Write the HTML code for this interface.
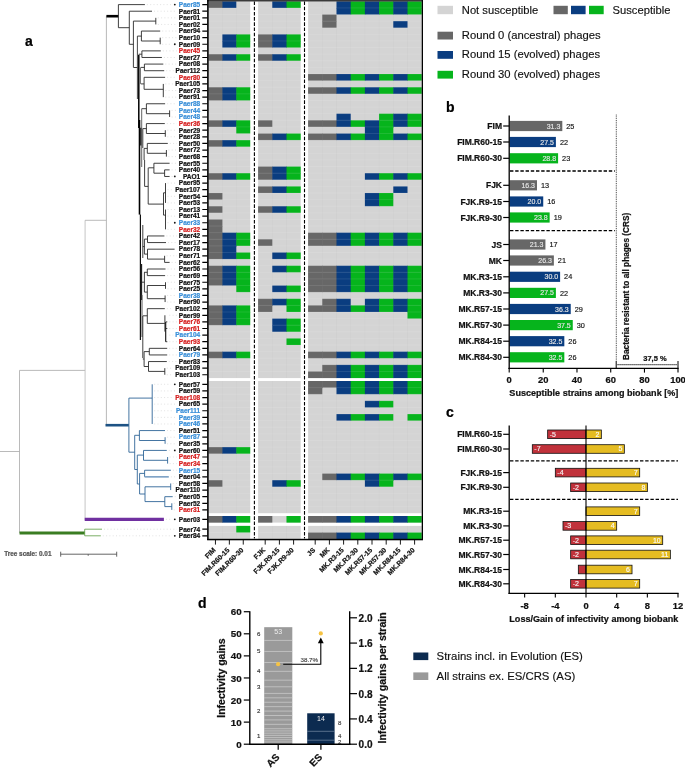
<!DOCTYPE html><html><head><meta charset="utf-8"><style>html,body{margin:0;padding:0;background:#fff;}svg{display:block;font-family:"Liberation Sans",sans-serif;will-change:transform;}</style></head><body>
<svg width="685" height="769" viewBox="0 0 685 769">
<g>
<rect x="208.50" y="1.30" width="41.70" height="376.77" fill="#d4d4d4"/>
<rect x="258.10" y="1.30" width="42.60" height="376.77" fill="#d4d4d4"/>
<rect x="308.10" y="1.30" width="113.60" height="376.77" fill="#d4d4d4"/>
<rect x="208.50" y="381.00" width="41.70" height="132.20" fill="#d4d4d4"/>
<rect x="258.10" y="381.00" width="42.60" height="132.20" fill="#d4d4d4"/>
<rect x="308.10" y="381.00" width="113.60" height="132.20" fill="#d4d4d4"/>
<rect x="208.50" y="516.00" width="41.70" height="6.61" fill="#d4d4d4"/>
<rect x="258.10" y="516.00" width="42.60" height="6.61" fill="#d4d4d4"/>
<rect x="308.10" y="516.00" width="113.60" height="6.61" fill="#d4d4d4"/>
<rect x="208.50" y="525.90" width="41.70" height="13.22" fill="#d4d4d4"/>
<rect x="258.10" y="525.90" width="42.60" height="13.22" fill="#d4d4d4"/>
<rect x="308.10" y="525.90" width="113.60" height="13.22" fill="#d4d4d4"/>
<rect x="208.50" y="1.30" width="14.40" height="6.61" fill="#676767"/>
<rect x="222.40" y="1.30" width="13.90" height="6.61" fill="#0a3d80"/>
<rect x="272.30" y="1.30" width="14.70" height="6.61" fill="#0a3d80"/>
<rect x="286.50" y="1.30" width="14.20" height="6.61" fill="#06b41c"/>
<rect x="336.50" y="1.30" width="14.70" height="7.11" fill="#0a3d80"/>
<rect x="350.70" y="1.30" width="14.70" height="7.11" fill="#06b41c"/>
<rect x="364.90" y="1.30" width="14.70" height="7.11" fill="#0a3d80"/>
<rect x="379.10" y="1.30" width="14.70" height="7.11" fill="#06b41c"/>
<rect x="393.30" y="1.30" width="14.70" height="7.11" fill="#0a3d80"/>
<rect x="407.50" y="1.30" width="14.20" height="7.11" fill="#06b41c"/>
<rect x="336.50" y="7.91" width="14.70" height="6.61" fill="#0a3d80"/>
<rect x="350.70" y="7.91" width="14.70" height="6.61" fill="#06b41c"/>
<rect x="364.90" y="7.91" width="14.70" height="6.61" fill="#0a3d80"/>
<rect x="379.10" y="7.91" width="14.70" height="6.61" fill="#06b41c"/>
<rect x="393.30" y="7.91" width="14.70" height="6.61" fill="#0a3d80"/>
<rect x="407.50" y="7.91" width="14.20" height="6.61" fill="#06b41c"/>
<rect x="322.30" y="14.52" width="14.20" height="7.11" fill="#676767"/>
<rect x="322.30" y="21.13" width="14.20" height="6.61" fill="#676767"/>
<rect x="393.30" y="21.13" width="14.20" height="6.61" fill="#0a3d80"/>
<rect x="222.40" y="34.35" width="14.40" height="7.11" fill="#0a3d80"/>
<rect x="236.30" y="34.35" width="13.90" height="7.11" fill="#06b41c"/>
<rect x="258.10" y="34.35" width="14.70" height="7.11" fill="#676767"/>
<rect x="272.30" y="34.35" width="14.70" height="7.11" fill="#0a3d80"/>
<rect x="286.50" y="34.35" width="14.20" height="7.11" fill="#06b41c"/>
<rect x="222.40" y="40.96" width="14.40" height="6.61" fill="#0a3d80"/>
<rect x="236.30" y="40.96" width="13.90" height="6.61" fill="#06b41c"/>
<rect x="258.10" y="40.96" width="14.70" height="6.61" fill="#676767"/>
<rect x="272.30" y="40.96" width="14.70" height="6.61" fill="#0a3d80"/>
<rect x="286.50" y="40.96" width="14.20" height="6.61" fill="#06b41c"/>
<rect x="208.50" y="54.18" width="14.40" height="6.61" fill="#676767"/>
<rect x="222.40" y="54.18" width="14.40" height="6.61" fill="#0a3d80"/>
<rect x="236.30" y="54.18" width="13.90" height="6.61" fill="#06b41c"/>
<rect x="258.10" y="54.18" width="14.70" height="6.61" fill="#676767"/>
<rect x="272.30" y="54.18" width="14.70" height="6.61" fill="#0a3d80"/>
<rect x="286.50" y="54.18" width="14.20" height="6.61" fill="#06b41c"/>
<rect x="308.10" y="74.01" width="14.70" height="6.61" fill="#676767"/>
<rect x="322.30" y="74.01" width="14.70" height="6.61" fill="#676767"/>
<rect x="336.50" y="74.01" width="14.70" height="6.61" fill="#0a3d80"/>
<rect x="350.70" y="74.01" width="14.70" height="6.61" fill="#06b41c"/>
<rect x="364.90" y="74.01" width="14.70" height="6.61" fill="#0a3d80"/>
<rect x="379.10" y="74.01" width="14.70" height="6.61" fill="#06b41c"/>
<rect x="393.30" y="74.01" width="14.70" height="6.61" fill="#0a3d80"/>
<rect x="407.50" y="74.01" width="14.20" height="6.61" fill="#06b41c"/>
<rect x="208.50" y="87.23" width="14.40" height="7.11" fill="#676767"/>
<rect x="222.40" y="87.23" width="14.40" height="7.11" fill="#0a3d80"/>
<rect x="236.30" y="87.23" width="13.90" height="7.11" fill="#06b41c"/>
<rect x="308.10" y="87.23" width="14.70" height="6.61" fill="#676767"/>
<rect x="322.30" y="87.23" width="14.70" height="6.61" fill="#676767"/>
<rect x="336.50" y="87.23" width="14.70" height="6.61" fill="#0a3d80"/>
<rect x="350.70" y="87.23" width="14.70" height="6.61" fill="#06b41c"/>
<rect x="364.90" y="87.23" width="14.70" height="6.61" fill="#0a3d80"/>
<rect x="379.10" y="87.23" width="14.70" height="6.61" fill="#06b41c"/>
<rect x="393.30" y="87.23" width="14.70" height="6.61" fill="#0a3d80"/>
<rect x="407.50" y="87.23" width="14.20" height="6.61" fill="#06b41c"/>
<rect x="208.50" y="93.84" width="14.40" height="6.61" fill="#676767"/>
<rect x="222.40" y="93.84" width="14.40" height="6.61" fill="#0a3d80"/>
<rect x="236.30" y="93.84" width="13.90" height="6.61" fill="#06b41c"/>
<rect x="336.50" y="113.67" width="14.20" height="7.11" fill="#0a3d80"/>
<rect x="379.10" y="113.67" width="14.70" height="7.11" fill="#06b41c"/>
<rect x="393.30" y="113.67" width="14.70" height="7.11" fill="#0a3d80"/>
<rect x="407.50" y="113.67" width="14.20" height="7.11" fill="#06b41c"/>
<rect x="208.50" y="120.28" width="14.40" height="6.61" fill="#676767"/>
<rect x="222.40" y="120.28" width="14.40" height="6.61" fill="#0a3d80"/>
<rect x="236.30" y="120.28" width="13.90" height="7.11" fill="#06b41c"/>
<rect x="258.10" y="120.28" width="14.20" height="6.61" fill="#676767"/>
<rect x="308.10" y="120.28" width="14.70" height="6.61" fill="#676767"/>
<rect x="322.30" y="120.28" width="14.70" height="6.61" fill="#676767"/>
<rect x="336.50" y="120.28" width="14.70" height="6.61" fill="#0a3d80"/>
<rect x="350.70" y="120.28" width="14.70" height="6.61" fill="#06b41c"/>
<rect x="364.90" y="120.28" width="14.70" height="7.11" fill="#0a3d80"/>
<rect x="379.10" y="120.28" width="14.70" height="7.11" fill="#06b41c"/>
<rect x="393.30" y="120.28" width="14.70" height="6.61" fill="#0a3d80"/>
<rect x="407.50" y="120.28" width="14.20" height="6.61" fill="#06b41c"/>
<rect x="236.30" y="126.89" width="13.90" height="6.61" fill="#06b41c"/>
<rect x="364.90" y="126.89" width="14.70" height="7.11" fill="#0a3d80"/>
<rect x="379.10" y="126.89" width="14.20" height="7.11" fill="#06b41c"/>
<rect x="258.10" y="133.50" width="14.70" height="6.61" fill="#676767"/>
<rect x="272.30" y="133.50" width="14.70" height="6.61" fill="#0a3d80"/>
<rect x="286.50" y="133.50" width="14.20" height="6.61" fill="#06b41c"/>
<rect x="308.10" y="133.50" width="14.70" height="6.61" fill="#676767"/>
<rect x="322.30" y="133.50" width="14.70" height="6.61" fill="#676767"/>
<rect x="336.50" y="133.50" width="14.70" height="6.61" fill="#0a3d80"/>
<rect x="350.70" y="133.50" width="14.70" height="6.61" fill="#06b41c"/>
<rect x="364.90" y="133.50" width="14.70" height="6.61" fill="#0a3d80"/>
<rect x="379.10" y="133.50" width="14.70" height="6.61" fill="#06b41c"/>
<rect x="393.30" y="133.50" width="14.70" height="6.61" fill="#0a3d80"/>
<rect x="407.50" y="133.50" width="14.20" height="6.61" fill="#06b41c"/>
<rect x="208.50" y="140.11" width="14.40" height="6.61" fill="#676767"/>
<rect x="222.40" y="140.11" width="14.40" height="6.61" fill="#0a3d80"/>
<rect x="236.30" y="140.11" width="13.90" height="6.61" fill="#06b41c"/>
<rect x="258.10" y="166.55" width="14.70" height="7.11" fill="#676767"/>
<rect x="272.30" y="166.55" width="14.70" height="7.11" fill="#0a3d80"/>
<rect x="286.50" y="166.55" width="14.20" height="7.11" fill="#06b41c"/>
<rect x="208.50" y="173.16" width="14.40" height="6.61" fill="#676767"/>
<rect x="222.40" y="173.16" width="14.40" height="6.61" fill="#0a3d80"/>
<rect x="236.30" y="173.16" width="13.90" height="6.61" fill="#06b41c"/>
<rect x="258.10" y="173.16" width="14.70" height="6.61" fill="#676767"/>
<rect x="272.30" y="173.16" width="14.70" height="6.61" fill="#0a3d80"/>
<rect x="286.50" y="173.16" width="14.20" height="6.61" fill="#06b41c"/>
<rect x="364.90" y="173.16" width="14.70" height="6.61" fill="#0a3d80"/>
<rect x="379.10" y="173.16" width="14.70" height="6.61" fill="#06b41c"/>
<rect x="393.30" y="173.16" width="14.70" height="6.61" fill="#0a3d80"/>
<rect x="407.50" y="173.16" width="14.20" height="6.61" fill="#06b41c"/>
<rect x="258.10" y="186.38" width="14.70" height="6.61" fill="#676767"/>
<rect x="272.30" y="186.38" width="14.70" height="6.61" fill="#0a3d80"/>
<rect x="286.50" y="186.38" width="14.20" height="6.61" fill="#06b41c"/>
<rect x="393.30" y="186.38" width="14.20" height="6.61" fill="#0a3d80"/>
<rect x="208.50" y="192.99" width="13.90" height="6.61" fill="#676767"/>
<rect x="364.90" y="192.99" width="14.70" height="7.11" fill="#0a3d80"/>
<rect x="379.10" y="192.99" width="14.20" height="7.11" fill="#06b41c"/>
<rect x="364.90" y="199.60" width="14.70" height="6.61" fill="#0a3d80"/>
<rect x="379.10" y="199.60" width="14.20" height="6.61" fill="#06b41c"/>
<rect x="208.50" y="206.21" width="13.90" height="6.61" fill="#676767"/>
<rect x="258.10" y="206.21" width="14.70" height="6.61" fill="#676767"/>
<rect x="272.30" y="206.21" width="14.70" height="6.61" fill="#0a3d80"/>
<rect x="286.50" y="206.21" width="14.20" height="6.61" fill="#06b41c"/>
<rect x="208.50" y="219.43" width="13.90" height="7.11" fill="#676767"/>
<rect x="208.50" y="226.04" width="13.90" height="7.11" fill="#676767"/>
<rect x="208.50" y="232.65" width="14.40" height="7.11" fill="#676767"/>
<rect x="222.40" y="232.65" width="14.40" height="7.11" fill="#0a3d80"/>
<rect x="236.30" y="232.65" width="13.90" height="7.11" fill="#06b41c"/>
<rect x="308.10" y="232.65" width="14.70" height="7.11" fill="#676767"/>
<rect x="322.30" y="232.65" width="14.70" height="7.11" fill="#676767"/>
<rect x="336.50" y="232.65" width="14.70" height="7.11" fill="#0a3d80"/>
<rect x="350.70" y="232.65" width="14.70" height="7.11" fill="#06b41c"/>
<rect x="364.90" y="232.65" width="14.70" height="7.11" fill="#0a3d80"/>
<rect x="379.10" y="232.65" width="14.70" height="7.11" fill="#06b41c"/>
<rect x="393.30" y="232.65" width="14.70" height="7.11" fill="#0a3d80"/>
<rect x="407.50" y="232.65" width="14.20" height="7.11" fill="#06b41c"/>
<rect x="208.50" y="239.26" width="14.40" height="7.11" fill="#676767"/>
<rect x="222.40" y="239.26" width="14.40" height="7.11" fill="#0a3d80"/>
<rect x="236.30" y="239.26" width="13.90" height="6.61" fill="#06b41c"/>
<rect x="258.10" y="239.26" width="14.20" height="6.61" fill="#676767"/>
<rect x="308.10" y="239.26" width="14.70" height="6.61" fill="#676767"/>
<rect x="322.30" y="239.26" width="14.70" height="6.61" fill="#676767"/>
<rect x="336.50" y="239.26" width="14.70" height="6.61" fill="#0a3d80"/>
<rect x="350.70" y="239.26" width="14.70" height="6.61" fill="#06b41c"/>
<rect x="364.90" y="239.26" width="14.70" height="6.61" fill="#0a3d80"/>
<rect x="379.10" y="239.26" width="14.70" height="6.61" fill="#06b41c"/>
<rect x="393.30" y="239.26" width="14.70" height="6.61" fill="#0a3d80"/>
<rect x="407.50" y="239.26" width="14.20" height="6.61" fill="#06b41c"/>
<rect x="208.50" y="245.87" width="14.40" height="7.11" fill="#676767"/>
<rect x="222.40" y="245.87" width="13.90" height="7.11" fill="#0a3d80"/>
<rect x="208.50" y="252.48" width="14.40" height="6.61" fill="#676767"/>
<rect x="222.40" y="252.48" width="14.40" height="6.61" fill="#0a3d80"/>
<rect x="236.30" y="252.48" width="13.90" height="6.61" fill="#06b41c"/>
<rect x="272.30" y="252.48" width="14.70" height="6.61" fill="#0a3d80"/>
<rect x="286.50" y="252.48" width="14.20" height="6.61" fill="#06b41c"/>
<rect x="208.50" y="265.70" width="14.40" height="7.11" fill="#676767"/>
<rect x="222.40" y="265.70" width="14.40" height="7.11" fill="#0a3d80"/>
<rect x="236.30" y="265.70" width="13.90" height="7.11" fill="#06b41c"/>
<rect x="272.30" y="265.70" width="14.70" height="6.61" fill="#0a3d80"/>
<rect x="286.50" y="265.70" width="14.20" height="6.61" fill="#06b41c"/>
<rect x="308.10" y="265.70" width="14.70" height="7.11" fill="#676767"/>
<rect x="322.30" y="265.70" width="14.70" height="7.11" fill="#676767"/>
<rect x="336.50" y="265.70" width="14.70" height="7.11" fill="#0a3d80"/>
<rect x="350.70" y="265.70" width="14.70" height="7.11" fill="#06b41c"/>
<rect x="364.90" y="265.70" width="14.70" height="7.11" fill="#0a3d80"/>
<rect x="379.10" y="265.70" width="14.70" height="7.11" fill="#06b41c"/>
<rect x="393.30" y="265.70" width="14.70" height="7.11" fill="#0a3d80"/>
<rect x="407.50" y="265.70" width="14.20" height="7.11" fill="#06b41c"/>
<rect x="208.50" y="272.31" width="14.40" height="7.11" fill="#676767"/>
<rect x="222.40" y="272.31" width="14.40" height="7.11" fill="#0a3d80"/>
<rect x="236.30" y="272.31" width="13.90" height="7.11" fill="#06b41c"/>
<rect x="308.10" y="272.31" width="14.70" height="7.11" fill="#676767"/>
<rect x="322.30" y="272.31" width="14.70" height="7.11" fill="#676767"/>
<rect x="336.50" y="272.31" width="14.70" height="7.11" fill="#0a3d80"/>
<rect x="350.70" y="272.31" width="14.70" height="7.11" fill="#06b41c"/>
<rect x="364.90" y="272.31" width="14.70" height="7.11" fill="#0a3d80"/>
<rect x="379.10" y="272.31" width="14.70" height="7.11" fill="#06b41c"/>
<rect x="393.30" y="272.31" width="14.70" height="7.11" fill="#0a3d80"/>
<rect x="407.50" y="272.31" width="14.20" height="7.11" fill="#06b41c"/>
<rect x="208.50" y="278.92" width="14.40" height="6.61" fill="#676767"/>
<rect x="222.40" y="278.92" width="14.40" height="6.61" fill="#0a3d80"/>
<rect x="236.30" y="278.92" width="13.90" height="7.11" fill="#06b41c"/>
<rect x="308.10" y="278.92" width="14.70" height="7.11" fill="#676767"/>
<rect x="322.30" y="278.92" width="14.70" height="7.11" fill="#676767"/>
<rect x="336.50" y="278.92" width="14.70" height="7.11" fill="#0a3d80"/>
<rect x="350.70" y="278.92" width="14.70" height="7.11" fill="#06b41c"/>
<rect x="364.90" y="278.92" width="14.70" height="7.11" fill="#0a3d80"/>
<rect x="379.10" y="278.92" width="14.70" height="7.11" fill="#06b41c"/>
<rect x="393.30" y="278.92" width="14.70" height="7.11" fill="#0a3d80"/>
<rect x="407.50" y="278.92" width="14.20" height="7.11" fill="#06b41c"/>
<rect x="236.30" y="285.53" width="13.90" height="6.61" fill="#06b41c"/>
<rect x="272.30" y="285.53" width="14.70" height="6.61" fill="#0a3d80"/>
<rect x="286.50" y="285.53" width="14.20" height="6.61" fill="#06b41c"/>
<rect x="308.10" y="285.53" width="14.70" height="6.61" fill="#676767"/>
<rect x="322.30" y="285.53" width="14.70" height="6.61" fill="#676767"/>
<rect x="336.50" y="285.53" width="14.70" height="6.61" fill="#0a3d80"/>
<rect x="350.70" y="285.53" width="14.70" height="6.61" fill="#06b41c"/>
<rect x="364.90" y="285.53" width="14.70" height="6.61" fill="#0a3d80"/>
<rect x="379.10" y="285.53" width="14.70" height="6.61" fill="#06b41c"/>
<rect x="393.30" y="285.53" width="14.70" height="6.61" fill="#0a3d80"/>
<rect x="407.50" y="285.53" width="14.20" height="6.61" fill="#06b41c"/>
<rect x="258.10" y="298.75" width="14.70" height="7.11" fill="#676767"/>
<rect x="272.30" y="298.75" width="14.70" height="6.61" fill="#0a3d80"/>
<rect x="286.50" y="298.75" width="14.20" height="7.11" fill="#06b41c"/>
<rect x="322.30" y="298.75" width="14.70" height="7.11" fill="#676767"/>
<rect x="336.50" y="298.75" width="14.20" height="7.11" fill="#0a3d80"/>
<rect x="364.90" y="298.75" width="14.70" height="7.11" fill="#0a3d80"/>
<rect x="379.10" y="298.75" width="14.70" height="7.11" fill="#06b41c"/>
<rect x="393.30" y="298.75" width="14.70" height="7.11" fill="#0a3d80"/>
<rect x="407.50" y="298.75" width="14.20" height="7.11" fill="#06b41c"/>
<rect x="208.50" y="305.36" width="14.40" height="7.11" fill="#676767"/>
<rect x="222.40" y="305.36" width="14.40" height="7.11" fill="#0a3d80"/>
<rect x="236.30" y="305.36" width="13.90" height="7.11" fill="#06b41c"/>
<rect x="258.10" y="305.36" width="14.20" height="6.61" fill="#676767"/>
<rect x="286.50" y="305.36" width="14.20" height="6.61" fill="#06b41c"/>
<rect x="308.10" y="305.36" width="14.70" height="6.61" fill="#676767"/>
<rect x="322.30" y="305.36" width="14.70" height="6.61" fill="#676767"/>
<rect x="336.50" y="305.36" width="14.70" height="6.61" fill="#0a3d80"/>
<rect x="350.70" y="305.36" width="14.70" height="6.61" fill="#06b41c"/>
<rect x="364.90" y="305.36" width="14.70" height="6.61" fill="#0a3d80"/>
<rect x="379.10" y="305.36" width="14.70" height="6.61" fill="#06b41c"/>
<rect x="393.30" y="305.36" width="14.70" height="6.61" fill="#0a3d80"/>
<rect x="407.50" y="305.36" width="14.20" height="7.11" fill="#06b41c"/>
<rect x="208.50" y="311.97" width="14.40" height="7.11" fill="#676767"/>
<rect x="222.40" y="311.97" width="14.40" height="7.11" fill="#0a3d80"/>
<rect x="236.30" y="311.97" width="13.90" height="7.11" fill="#06b41c"/>
<rect x="407.50" y="311.97" width="14.20" height="6.61" fill="#06b41c"/>
<rect x="208.50" y="318.58" width="14.40" height="6.61" fill="#676767"/>
<rect x="222.40" y="318.58" width="14.40" height="6.61" fill="#0a3d80"/>
<rect x="236.30" y="318.58" width="13.90" height="6.61" fill="#06b41c"/>
<rect x="272.30" y="318.58" width="14.70" height="7.11" fill="#0a3d80"/>
<rect x="286.50" y="318.58" width="14.20" height="7.11" fill="#06b41c"/>
<rect x="272.30" y="325.19" width="14.70" height="6.61" fill="#0a3d80"/>
<rect x="286.50" y="325.19" width="14.20" height="6.61" fill="#06b41c"/>
<rect x="286.50" y="338.41" width="14.20" height="6.61" fill="#06b41c"/>
<rect x="208.50" y="351.63" width="14.40" height="6.61" fill="#676767"/>
<rect x="222.40" y="351.63" width="14.40" height="6.61" fill="#0a3d80"/>
<rect x="236.30" y="351.63" width="13.90" height="6.61" fill="#06b41c"/>
<rect x="308.10" y="351.63" width="14.70" height="6.61" fill="#676767"/>
<rect x="322.30" y="351.63" width="14.70" height="6.61" fill="#676767"/>
<rect x="336.50" y="351.63" width="14.70" height="6.61" fill="#0a3d80"/>
<rect x="350.70" y="351.63" width="14.70" height="6.61" fill="#06b41c"/>
<rect x="364.90" y="351.63" width="14.70" height="6.61" fill="#0a3d80"/>
<rect x="379.10" y="351.63" width="14.70" height="6.61" fill="#06b41c"/>
<rect x="393.30" y="351.63" width="14.70" height="6.61" fill="#0a3d80"/>
<rect x="407.50" y="351.63" width="14.20" height="6.61" fill="#06b41c"/>
<rect x="322.30" y="364.85" width="14.70" height="7.11" fill="#676767"/>
<rect x="336.50" y="364.85" width="14.70" height="7.11" fill="#0a3d80"/>
<rect x="350.70" y="364.85" width="14.70" height="7.11" fill="#06b41c"/>
<rect x="364.90" y="364.85" width="14.70" height="7.11" fill="#0a3d80"/>
<rect x="379.10" y="364.85" width="14.70" height="7.11" fill="#06b41c"/>
<rect x="393.30" y="364.85" width="14.70" height="7.11" fill="#0a3d80"/>
<rect x="407.50" y="364.85" width="14.20" height="7.11" fill="#06b41c"/>
<rect x="308.10" y="371.46" width="14.70" height="6.61" fill="#676767"/>
<rect x="322.30" y="371.46" width="14.70" height="6.61" fill="#676767"/>
<rect x="336.50" y="371.46" width="14.70" height="6.61" fill="#0a3d80"/>
<rect x="350.70" y="371.46" width="14.70" height="6.61" fill="#06b41c"/>
<rect x="364.90" y="371.46" width="14.70" height="6.61" fill="#0a3d80"/>
<rect x="379.10" y="371.46" width="14.70" height="6.61" fill="#06b41c"/>
<rect x="393.30" y="371.46" width="14.70" height="6.61" fill="#0a3d80"/>
<rect x="407.50" y="371.46" width="14.20" height="6.61" fill="#06b41c"/>
<rect x="308.10" y="381.00" width="14.70" height="7.11" fill="#676767"/>
<rect x="322.30" y="381.00" width="14.70" height="6.61" fill="#676767"/>
<rect x="336.50" y="381.00" width="14.70" height="7.11" fill="#0a3d80"/>
<rect x="350.70" y="381.00" width="14.70" height="7.11" fill="#06b41c"/>
<rect x="364.90" y="381.00" width="14.70" height="7.11" fill="#0a3d80"/>
<rect x="379.10" y="381.00" width="14.70" height="7.11" fill="#06b41c"/>
<rect x="393.30" y="381.00" width="14.70" height="7.11" fill="#0a3d80"/>
<rect x="407.50" y="381.00" width="14.20" height="7.11" fill="#06b41c"/>
<rect x="308.10" y="387.61" width="14.20" height="6.61" fill="#676767"/>
<rect x="336.50" y="387.61" width="14.70" height="6.61" fill="#0a3d80"/>
<rect x="350.70" y="387.61" width="14.70" height="6.61" fill="#06b41c"/>
<rect x="364.90" y="387.61" width="14.70" height="6.61" fill="#0a3d80"/>
<rect x="379.10" y="387.61" width="14.70" height="6.61" fill="#06b41c"/>
<rect x="393.30" y="387.61" width="14.70" height="6.61" fill="#0a3d80"/>
<rect x="407.50" y="387.61" width="14.20" height="6.61" fill="#06b41c"/>
<rect x="364.90" y="400.83" width="14.70" height="6.61" fill="#0a3d80"/>
<rect x="379.10" y="400.83" width="14.20" height="6.61" fill="#06b41c"/>
<rect x="336.50" y="414.05" width="14.70" height="6.61" fill="#0a3d80"/>
<rect x="350.70" y="414.05" width="14.70" height="6.61" fill="#06b41c"/>
<rect x="364.90" y="414.05" width="14.70" height="6.61" fill="#0a3d80"/>
<rect x="379.10" y="414.05" width="14.20" height="6.61" fill="#06b41c"/>
<rect x="407.50" y="414.05" width="14.20" height="6.61" fill="#06b41c"/>
<rect x="208.50" y="447.10" width="14.40" height="6.61" fill="#676767"/>
<rect x="222.40" y="447.10" width="14.40" height="6.61" fill="#0a3d80"/>
<rect x="236.30" y="447.10" width="13.90" height="6.61" fill="#06b41c"/>
<rect x="322.30" y="473.54" width="14.70" height="6.61" fill="#676767"/>
<rect x="336.50" y="473.54" width="14.70" height="6.61" fill="#0a3d80"/>
<rect x="350.70" y="473.54" width="14.70" height="6.61" fill="#06b41c"/>
<rect x="364.90" y="473.54" width="14.70" height="7.11" fill="#0a3d80"/>
<rect x="379.10" y="473.54" width="14.70" height="7.11" fill="#06b41c"/>
<rect x="393.30" y="473.54" width="14.70" height="6.61" fill="#0a3d80"/>
<rect x="407.50" y="473.54" width="14.20" height="6.61" fill="#06b41c"/>
<rect x="208.50" y="480.15" width="13.90" height="6.61" fill="#676767"/>
<rect x="272.30" y="480.15" width="14.70" height="6.61" fill="#0a3d80"/>
<rect x="286.50" y="480.15" width="14.20" height="6.61" fill="#06b41c"/>
<rect x="364.90" y="480.15" width="14.70" height="6.61" fill="#0a3d80"/>
<rect x="379.10" y="480.15" width="14.20" height="6.61" fill="#06b41c"/>
<rect x="208.50" y="516.00" width="14.40" height="6.61" fill="#676767"/>
<rect x="222.40" y="516.00" width="14.40" height="6.61" fill="#0a3d80"/>
<rect x="236.30" y="516.00" width="13.90" height="6.61" fill="#06b41c"/>
<rect x="258.10" y="516.00" width="14.20" height="6.61" fill="#676767"/>
<rect x="286.50" y="516.00" width="14.20" height="6.61" fill="#06b41c"/>
<rect x="308.10" y="516.00" width="14.70" height="6.61" fill="#676767"/>
<rect x="322.30" y="516.00" width="14.70" height="6.61" fill="#676767"/>
<rect x="336.50" y="516.00" width="14.70" height="6.61" fill="#0a3d80"/>
<rect x="350.70" y="516.00" width="14.70" height="6.61" fill="#06b41c"/>
<rect x="364.90" y="516.00" width="14.70" height="6.61" fill="#0a3d80"/>
<rect x="379.10" y="516.00" width="14.70" height="6.61" fill="#06b41c"/>
<rect x="393.30" y="516.00" width="14.70" height="6.61" fill="#0a3d80"/>
<rect x="407.50" y="516.00" width="14.20" height="6.61" fill="#06b41c"/>
<rect x="236.30" y="525.90" width="13.90" height="6.61" fill="#06b41c"/>
<rect x="308.10" y="532.51" width="14.70" height="6.61" fill="#676767"/>
<rect x="322.30" y="532.51" width="14.70" height="6.61" fill="#676767"/>
<rect x="336.50" y="532.51" width="14.70" height="6.61" fill="#0a3d80"/>
<rect x="350.70" y="532.51" width="14.70" height="6.61" fill="#06b41c"/>
<rect x="364.90" y="532.51" width="14.70" height="6.61" fill="#0a3d80"/>
<rect x="379.10" y="532.51" width="14.70" height="6.61" fill="#06b41c"/>
<rect x="393.30" y="532.51" width="14.70" height="6.61" fill="#0a3d80"/>
<rect x="407.50" y="532.51" width="14.20" height="6.61" fill="#06b41c"/>
</g>
<path d="M208.50 7.91H250.20 M258.10 7.91H300.70 M308.10 7.91H421.70 M208.50 14.52H250.20 M258.10 14.52H300.70 M308.10 14.52H421.70 M208.50 21.13H250.20 M258.10 21.13H300.70 M308.10 21.13H421.70 M208.50 27.74H250.20 M258.10 27.74H300.70 M308.10 27.74H421.70 M208.50 34.35H250.20 M258.10 34.35H300.70 M308.10 34.35H421.70 M208.50 40.96H250.20 M258.10 40.96H300.70 M308.10 40.96H421.70 M208.50 47.57H250.20 M258.10 47.57H300.70 M308.10 47.57H421.70 M208.50 54.18H250.20 M258.10 54.18H300.70 M308.10 54.18H421.70 M208.50 60.79H250.20 M258.10 60.79H300.70 M308.10 60.79H421.70 M208.50 67.40H250.20 M258.10 67.40H300.70 M308.10 67.40H421.70 M208.50 74.01H250.20 M258.10 74.01H300.70 M308.10 74.01H421.70 M208.50 80.62H250.20 M258.10 80.62H300.70 M308.10 80.62H421.70 M208.50 87.23H250.20 M258.10 87.23H300.70 M308.10 87.23H421.70 M208.50 93.84H250.20 M258.10 93.84H300.70 M308.10 93.84H421.70 M208.50 100.45H250.20 M258.10 100.45H300.70 M308.10 100.45H421.70 M208.50 107.06H250.20 M258.10 107.06H300.70 M308.10 107.06H421.70 M208.50 113.67H250.20 M258.10 113.67H300.70 M308.10 113.67H421.70 M208.50 120.28H250.20 M258.10 120.28H300.70 M308.10 120.28H421.70 M208.50 126.89H250.20 M258.10 126.89H300.70 M308.10 126.89H421.70 M208.50 133.50H250.20 M258.10 133.50H300.70 M308.10 133.50H421.70 M208.50 140.11H250.20 M258.10 140.11H300.70 M308.10 140.11H421.70 M208.50 146.72H250.20 M258.10 146.72H300.70 M308.10 146.72H421.70 M208.50 153.33H250.20 M258.10 153.33H300.70 M308.10 153.33H421.70 M208.50 159.94H250.20 M258.10 159.94H300.70 M308.10 159.94H421.70 M208.50 166.55H250.20 M258.10 166.55H300.70 M308.10 166.55H421.70 M208.50 173.16H250.20 M258.10 173.16H300.70 M308.10 173.16H421.70 M208.50 179.77H250.20 M258.10 179.77H300.70 M308.10 179.77H421.70 M208.50 186.38H250.20 M258.10 186.38H300.70 M308.10 186.38H421.70 M208.50 192.99H250.20 M258.10 192.99H300.70 M308.10 192.99H421.70 M208.50 199.60H250.20 M258.10 199.60H300.70 M308.10 199.60H421.70 M208.50 206.21H250.20 M258.10 206.21H300.70 M308.10 206.21H421.70 M208.50 212.82H250.20 M258.10 212.82H300.70 M308.10 212.82H421.70 M208.50 219.43H250.20 M258.10 219.43H300.70 M308.10 219.43H421.70 M208.50 226.04H250.20 M258.10 226.04H300.70 M308.10 226.04H421.70 M208.50 232.65H250.20 M258.10 232.65H300.70 M308.10 232.65H421.70 M208.50 239.26H250.20 M258.10 239.26H300.70 M308.10 239.26H421.70 M208.50 245.87H250.20 M258.10 245.87H300.70 M308.10 245.87H421.70 M208.50 252.48H250.20 M258.10 252.48H300.70 M308.10 252.48H421.70 M208.50 259.09H250.20 M258.10 259.09H300.70 M308.10 259.09H421.70 M208.50 265.70H250.20 M258.10 265.70H300.70 M308.10 265.70H421.70 M208.50 272.31H250.20 M258.10 272.31H300.70 M308.10 272.31H421.70 M208.50 278.92H250.20 M258.10 278.92H300.70 M308.10 278.92H421.70 M208.50 285.53H250.20 M258.10 285.53H300.70 M308.10 285.53H421.70 M208.50 292.14H250.20 M258.10 292.14H300.70 M308.10 292.14H421.70 M208.50 298.75H250.20 M258.10 298.75H300.70 M308.10 298.75H421.70 M208.50 305.36H250.20 M258.10 305.36H300.70 M308.10 305.36H421.70 M208.50 311.97H250.20 M258.10 311.97H300.70 M308.10 311.97H421.70 M208.50 318.58H250.20 M258.10 318.58H300.70 M308.10 318.58H421.70 M208.50 325.19H250.20 M258.10 325.19H300.70 M308.10 325.19H421.70 M208.50 331.80H250.20 M258.10 331.80H300.70 M308.10 331.80H421.70 M208.50 338.41H250.20 M258.10 338.41H300.70 M308.10 338.41H421.70 M208.50 345.02H250.20 M258.10 345.02H300.70 M308.10 345.02H421.70 M208.50 351.63H250.20 M258.10 351.63H300.70 M308.10 351.63H421.70 M208.50 358.24H250.20 M258.10 358.24H300.70 M308.10 358.24H421.70 M208.50 364.85H250.20 M258.10 364.85H300.70 M308.10 364.85H421.70 M208.50 371.46H250.20 M258.10 371.46H300.70 M308.10 371.46H421.70 M208.50 387.61H250.20 M258.10 387.61H300.70 M308.10 387.61H421.70 M208.50 394.22H250.20 M258.10 394.22H300.70 M308.10 394.22H421.70 M208.50 400.83H250.20 M258.10 400.83H300.70 M308.10 400.83H421.70 M208.50 407.44H250.20 M258.10 407.44H300.70 M308.10 407.44H421.70 M208.50 414.05H250.20 M258.10 414.05H300.70 M308.10 414.05H421.70 M208.50 420.66H250.20 M258.10 420.66H300.70 M308.10 420.66H421.70 M208.50 427.27H250.20 M258.10 427.27H300.70 M308.10 427.27H421.70 M208.50 433.88H250.20 M258.10 433.88H300.70 M308.10 433.88H421.70 M208.50 440.49H250.20 M258.10 440.49H300.70 M308.10 440.49H421.70 M208.50 447.10H250.20 M258.10 447.10H300.70 M308.10 447.10H421.70 M208.50 453.71H250.20 M258.10 453.71H300.70 M308.10 453.71H421.70 M208.50 460.32H250.20 M258.10 460.32H300.70 M308.10 460.32H421.70 M208.50 466.93H250.20 M258.10 466.93H300.70 M308.10 466.93H421.70 M208.50 473.54H250.20 M258.10 473.54H300.70 M308.10 473.54H421.70 M208.50 480.15H250.20 M258.10 480.15H300.70 M308.10 480.15H421.70 M208.50 486.76H250.20 M258.10 486.76H300.70 M308.10 486.76H421.70 M208.50 493.37H250.20 M258.10 493.37H300.70 M308.10 493.37H421.70 M208.50 499.98H250.20 M258.10 499.98H300.70 M308.10 499.98H421.70 M208.50 506.59H250.20 M258.10 506.59H300.70 M308.10 506.59H421.70 M208.50 532.51H250.20 M258.10 532.51H300.70 M308.10 532.51H421.70" stroke="#fff" stroke-opacity="0.13" stroke-width="0.8" fill="none"/>
<path d="M222.40 1.30V378.07 M236.30 1.30V378.07 M272.30 1.30V378.07 M286.50 1.30V378.07 M322.30 1.30V378.07 M336.50 1.30V378.07 M350.70 1.30V378.07 M364.90 1.30V378.07 M379.10 1.30V378.07 M393.30 1.30V378.07 M407.50 1.30V378.07 M222.40 381.00V513.20 M236.30 381.00V513.20 M272.30 381.00V513.20 M286.50 381.00V513.20 M322.30 381.00V513.20 M336.50 381.00V513.20 M350.70 381.00V513.20 M364.90 381.00V513.20 M379.10 381.00V513.20 M393.30 381.00V513.20 M407.50 381.00V513.20 M222.40 516.00V522.61 M236.30 516.00V522.61 M272.30 516.00V522.61 M286.50 516.00V522.61 M322.30 516.00V522.61 M336.50 516.00V522.61 M350.70 516.00V522.61 M364.90 516.00V522.61 M379.10 516.00V522.61 M393.30 516.00V522.61 M407.50 516.00V522.61 M222.40 525.90V539.12 M236.30 525.90V539.12 M272.30 525.90V539.12 M286.50 525.90V539.12 M322.30 525.90V539.12 M336.50 525.90V539.12 M350.70 525.90V539.12 M364.90 525.90V539.12 M379.10 525.90V539.12 M393.30 525.90V539.12 M407.50 525.90V539.12" stroke="#000" stroke-opacity="0.025" stroke-width="0.7" fill="none"/>
<rect x="207.3" y="0" width="215.7" height="1.5" fill="#3a3a3a"/>
<rect x="207.1" y="0" width="1.6" height="540" fill="#000"/>
<rect x="421.7" y="0" width="1.3" height="540" fill="#000"/>
<rect x="207.1" y="538.8" width="215.9" height="1.5" fill="#000"/>
<line x1="254.4" y1="1.5" x2="254.4" y2="538.6" stroke="#000" stroke-width="1.1" stroke-dasharray="3.6 1.6"/>
<line x1="304.5" y1="1.5" x2="304.5" y2="538.6" stroke="#000" stroke-width="1.1" stroke-dasharray="3.6 1.6"/>
<path d="M202.3 4.61H207.5 M202.3 11.21H207.5 M202.3 17.83H207.5 M202.3 24.44H207.5 M202.3 31.05H207.5 M202.3 37.66H207.5 M202.3 44.27H207.5 M202.3 50.88H207.5 M202.3 57.48H207.5 M202.3 64.09H207.5 M202.3 70.71H207.5 M202.3 77.32H207.5 M202.3 83.93H207.5 M202.3 90.54H207.5 M202.3 97.15H207.5 M202.3 103.76H207.5 M202.3 110.37H207.5 M202.3 116.98H207.5 M202.3 123.59H207.5 M202.3 130.19H207.5 M202.3 136.81H207.5 M202.3 143.42H207.5 M202.3 150.03H207.5 M202.3 156.64H207.5 M202.3 163.25H207.5 M202.3 169.86H207.5 M202.3 176.47H207.5 M202.3 183.08H207.5 M202.3 189.69H207.5 M202.3 196.30H207.5 M202.3 202.91H207.5 M202.3 209.52H207.5 M202.3 216.13H207.5 M202.3 222.74H207.5 M202.3 229.35H207.5 M202.3 235.96H207.5 M202.3 242.57H207.5 M202.3 249.18H207.5 M202.3 255.79H207.5 M202.3 262.40H207.5 M202.3 269.01H207.5 M202.3 275.62H207.5 M202.3 282.23H207.5 M202.3 288.84H207.5 M202.3 295.45H207.5 M202.3 302.06H207.5 M202.3 308.67H207.5 M202.3 315.28H207.5 M202.3 321.89H207.5 M202.3 328.50H207.5 M202.3 335.11H207.5 M202.3 341.72H207.5 M202.3 348.33H207.5 M202.3 354.94H207.5 M202.3 361.55H207.5 M202.3 368.16H207.5 M202.3 374.77H207.5 M202.3 384.31H207.5 M202.3 390.92H207.5 M202.3 397.53H207.5 M202.3 404.13H207.5 M202.3 410.75H207.5 M202.3 417.36H207.5 M202.3 423.97H207.5 M202.3 430.57H207.5 M202.3 437.19H207.5 M202.3 443.80H207.5 M202.3 450.41H207.5 M202.3 457.02H207.5 M202.3 463.62H207.5 M202.3 470.24H207.5 M202.3 476.85H207.5 M202.3 483.45H207.5 M202.3 490.06H207.5 M202.3 496.68H207.5 M202.3 503.29H207.5 M202.3 509.90H207.5 M202.3 519.30H207.5 M202.3 529.20H207.5 M202.3 535.81H207.5" stroke="#000" stroke-width="1.2" fill="none"/>
<path d="M215.45 540V544.6 M229.35 540V544.6 M243.25 540V544.6 M265.20 540V544.6 M279.40 540V544.6 M293.60 540V544.6 M315.20 540V544.6 M329.40 540V544.6 M343.60 540V544.6 M357.80 540V544.6 M372.00 540V544.6 M386.20 540V544.6 M400.40 540V544.6 M414.60 540V544.6" stroke="#000" stroke-width="0.9" fill="none"/>
<text transform="translate(216.05 550.5) rotate(-45)" text-anchor="end" font-size="6.9" font-weight="bold" fill="#111" stroke="#111" stroke-width="0.22">FIM</text>
<text transform="translate(229.95 550.5) rotate(-45)" text-anchor="end" font-size="6.9" font-weight="bold" fill="#111" stroke="#111" stroke-width="0.22">FIM.R60-15</text>
<text transform="translate(243.85 550.5) rotate(-45)" text-anchor="end" font-size="6.9" font-weight="bold" fill="#111" stroke="#111" stroke-width="0.22">FIM.R60-30</text>
<text transform="translate(265.80 550.5) rotate(-45)" text-anchor="end" font-size="6.9" font-weight="bold" fill="#111" stroke="#111" stroke-width="0.22">FJK</text>
<text transform="translate(280.00 550.5) rotate(-45)" text-anchor="end" font-size="6.9" font-weight="bold" fill="#111" stroke="#111" stroke-width="0.22">FJK.R9-15</text>
<text transform="translate(294.20 550.5) rotate(-45)" text-anchor="end" font-size="6.9" font-weight="bold" fill="#111" stroke="#111" stroke-width="0.22">FJK.R9-30</text>
<text transform="translate(315.80 550.5) rotate(-45)" text-anchor="end" font-size="6.9" font-weight="bold" fill="#111" stroke="#111" stroke-width="0.22">JS</text>
<text transform="translate(330.00 550.5) rotate(-45)" text-anchor="end" font-size="6.9" font-weight="bold" fill="#111" stroke="#111" stroke-width="0.22">MK</text>
<text transform="translate(344.20 550.5) rotate(-45)" text-anchor="end" font-size="6.9" font-weight="bold" fill="#111" stroke="#111" stroke-width="0.22">MK.R3-15</text>
<text transform="translate(358.40 550.5) rotate(-45)" text-anchor="end" font-size="6.9" font-weight="bold" fill="#111" stroke="#111" stroke-width="0.22">MK.R3-30</text>
<text transform="translate(372.60 550.5) rotate(-45)" text-anchor="end" font-size="6.9" font-weight="bold" fill="#111" stroke="#111" stroke-width="0.22">MK.R57-15</text>
<text transform="translate(386.80 550.5) rotate(-45)" text-anchor="end" font-size="6.9" font-weight="bold" fill="#111" stroke="#111" stroke-width="0.22">MK.R57-30</text>
<text transform="translate(401.00 550.5) rotate(-45)" text-anchor="end" font-size="6.9" font-weight="bold" fill="#111" stroke="#111" stroke-width="0.22">MK.R84-15</text>
<text transform="translate(415.20 550.5) rotate(-45)" text-anchor="end" font-size="6.9" font-weight="bold" fill="#111" stroke="#111" stroke-width="0.22">MK.R84-30</text>
<text x="200.2" y="6.91" text-anchor="end" font-size="6.5" font-weight="bold" fill="#3a8fd8" stroke="#3a8fd8" stroke-width="0.22">Paer85</text>
<text x="200.2" y="13.52" text-anchor="end" font-size="6.5" font-weight="bold" fill="#111" stroke="#111" stroke-width="0.22">Paer81</text>
<text x="200.2" y="20.13" text-anchor="end" font-size="6.5" font-weight="bold" fill="#111" stroke="#111" stroke-width="0.22">Paer01</text>
<text x="200.2" y="26.74" text-anchor="end" font-size="6.5" font-weight="bold" fill="#111" stroke="#111" stroke-width="0.22">Paer02</text>
<text x="200.2" y="33.34" text-anchor="end" font-size="6.5" font-weight="bold" fill="#111" stroke="#111" stroke-width="0.22">Paer94</text>
<text x="200.2" y="39.95" text-anchor="end" font-size="6.5" font-weight="bold" fill="#111" stroke="#111" stroke-width="0.22">Paer10</text>
<text x="200.2" y="46.56" text-anchor="end" font-size="6.5" font-weight="bold" fill="#111" stroke="#111" stroke-width="0.22">Paer09</text>
<text x="200.2" y="53.17" text-anchor="end" font-size="6.5" font-weight="bold" fill="#d61f1f" stroke="#d61f1f" stroke-width="0.22">Paer45</text>
<text x="200.2" y="59.78" text-anchor="end" font-size="6.5" font-weight="bold" fill="#111" stroke="#111" stroke-width="0.22">Paer27</text>
<text x="200.2" y="66.39" text-anchor="end" font-size="6.5" font-weight="bold" fill="#111" stroke="#111" stroke-width="0.22">Paer08</text>
<text x="200.2" y="73.01" text-anchor="end" font-size="6.5" font-weight="bold" fill="#111" stroke="#111" stroke-width="0.22">Paer112</text>
<text x="200.2" y="79.62" text-anchor="end" font-size="6.5" font-weight="bold" fill="#d61f1f" stroke="#d61f1f" stroke-width="0.22">Paer80</text>
<text x="200.2" y="86.23" text-anchor="end" font-size="6.5" font-weight="bold" fill="#111" stroke="#111" stroke-width="0.22">Paer105</text>
<text x="200.2" y="92.84" text-anchor="end" font-size="6.5" font-weight="bold" fill="#111" stroke="#111" stroke-width="0.22">Paer73</text>
<text x="200.2" y="99.45" text-anchor="end" font-size="6.5" font-weight="bold" fill="#111" stroke="#111" stroke-width="0.22">Paer91</text>
<text x="200.2" y="106.06" text-anchor="end" font-size="6.5" font-weight="bold" fill="#3a8fd8" stroke="#3a8fd8" stroke-width="0.22">Paer88</text>
<text x="200.2" y="112.67" text-anchor="end" font-size="6.5" font-weight="bold" fill="#3a8fd8" stroke="#3a8fd8" stroke-width="0.22">Paer44</text>
<text x="200.2" y="119.28" text-anchor="end" font-size="6.5" font-weight="bold" fill="#3a8fd8" stroke="#3a8fd8" stroke-width="0.22">Paer48</text>
<text x="200.2" y="125.89" text-anchor="end" font-size="6.5" font-weight="bold" fill="#d61f1f" stroke="#d61f1f" stroke-width="0.22">Paer36</text>
<text x="200.2" y="132.50" text-anchor="end" font-size="6.5" font-weight="bold" fill="#111" stroke="#111" stroke-width="0.22">Paer29</text>
<text x="200.2" y="139.11" text-anchor="end" font-size="6.5" font-weight="bold" fill="#111" stroke="#111" stroke-width="0.22">Paer28</text>
<text x="200.2" y="145.72" text-anchor="end" font-size="6.5" font-weight="bold" fill="#111" stroke="#111" stroke-width="0.22">Paer50</text>
<text x="200.2" y="152.33" text-anchor="end" font-size="6.5" font-weight="bold" fill="#111" stroke="#111" stroke-width="0.22">Paer72</text>
<text x="200.2" y="158.94" text-anchor="end" font-size="6.5" font-weight="bold" fill="#111" stroke="#111" stroke-width="0.22">Paer68</text>
<text x="200.2" y="165.55" text-anchor="end" font-size="6.5" font-weight="bold" fill="#111" stroke="#111" stroke-width="0.22">Paer55</text>
<text x="200.2" y="172.16" text-anchor="end" font-size="6.5" font-weight="bold" fill="#111" stroke="#111" stroke-width="0.22">Paer40</text>
<text x="200.2" y="178.77" text-anchor="end" font-size="6.5" font-weight="bold" fill="#111" stroke="#111" stroke-width="0.22">PAO1</text>
<text x="200.2" y="185.38" text-anchor="end" font-size="6.5" font-weight="bold" fill="#111" stroke="#111" stroke-width="0.22">Paer95</text>
<text x="200.2" y="191.99" text-anchor="end" font-size="6.5" font-weight="bold" fill="#111" stroke="#111" stroke-width="0.22">Paer107</text>
<text x="200.2" y="198.60" text-anchor="end" font-size="6.5" font-weight="bold" fill="#111" stroke="#111" stroke-width="0.22">Paer54</text>
<text x="200.2" y="205.21" text-anchor="end" font-size="6.5" font-weight="bold" fill="#111" stroke="#111" stroke-width="0.22">Paer53</text>
<text x="200.2" y="211.82" text-anchor="end" font-size="6.5" font-weight="bold" fill="#111" stroke="#111" stroke-width="0.22">Paer13</text>
<text x="200.2" y="218.43" text-anchor="end" font-size="6.5" font-weight="bold" fill="#111" stroke="#111" stroke-width="0.22">Paer41</text>
<text x="200.2" y="225.04" text-anchor="end" font-size="6.5" font-weight="bold" fill="#3a8fd8" stroke="#3a8fd8" stroke-width="0.22">Paer33</text>
<text x="200.2" y="231.65" text-anchor="end" font-size="6.5" font-weight="bold" fill="#d61f1f" stroke="#d61f1f" stroke-width="0.22">Paer32</text>
<text x="200.2" y="238.26" text-anchor="end" font-size="6.5" font-weight="bold" fill="#111" stroke="#111" stroke-width="0.22">Paer42</text>
<text x="200.2" y="244.87" text-anchor="end" font-size="6.5" font-weight="bold" fill="#111" stroke="#111" stroke-width="0.22">Paer17</text>
<text x="200.2" y="251.48" text-anchor="end" font-size="6.5" font-weight="bold" fill="#111" stroke="#111" stroke-width="0.22">Paer78</text>
<text x="200.2" y="258.09" text-anchor="end" font-size="6.5" font-weight="bold" fill="#111" stroke="#111" stroke-width="0.22">Paer71</text>
<text x="200.2" y="264.70" text-anchor="end" font-size="6.5" font-weight="bold" fill="#111" stroke="#111" stroke-width="0.22">Paer62</text>
<text x="200.2" y="271.31" text-anchor="end" font-size="6.5" font-weight="bold" fill="#111" stroke="#111" stroke-width="0.22">Paer56</text>
<text x="200.2" y="277.92" text-anchor="end" font-size="6.5" font-weight="bold" fill="#111" stroke="#111" stroke-width="0.22">Paer69</text>
<text x="200.2" y="284.53" text-anchor="end" font-size="6.5" font-weight="bold" fill="#111" stroke="#111" stroke-width="0.22">Paer75</text>
<text x="200.2" y="291.14" text-anchor="end" font-size="6.5" font-weight="bold" fill="#111" stroke="#111" stroke-width="0.22">Paer25</text>
<text x="200.2" y="297.75" text-anchor="end" font-size="6.5" font-weight="bold" fill="#3a8fd8" stroke="#3a8fd8" stroke-width="0.22">Paer38</text>
<text x="200.2" y="304.36" text-anchor="end" font-size="6.5" font-weight="bold" fill="#111" stroke="#111" stroke-width="0.22">Paer90</text>
<text x="200.2" y="310.97" text-anchor="end" font-size="6.5" font-weight="bold" fill="#111" stroke="#111" stroke-width="0.22">Paer102</text>
<text x="200.2" y="317.58" text-anchor="end" font-size="6.5" font-weight="bold" fill="#111" stroke="#111" stroke-width="0.22">Paer99</text>
<text x="200.2" y="324.19" text-anchor="end" font-size="6.5" font-weight="bold" fill="#d61f1f" stroke="#d61f1f" stroke-width="0.22">Paer76</text>
<text x="200.2" y="330.80" text-anchor="end" font-size="6.5" font-weight="bold" fill="#d61f1f" stroke="#d61f1f" stroke-width="0.22">Paer61</text>
<text x="200.2" y="337.41" text-anchor="end" font-size="6.5" font-weight="bold" fill="#3a8fd8" stroke="#3a8fd8" stroke-width="0.22">Paer104</text>
<text x="200.2" y="344.02" text-anchor="end" font-size="6.5" font-weight="bold" fill="#d61f1f" stroke="#d61f1f" stroke-width="0.22">Paer93</text>
<text x="200.2" y="350.63" text-anchor="end" font-size="6.5" font-weight="bold" fill="#111" stroke="#111" stroke-width="0.22">Paer64</text>
<text x="200.2" y="357.24" text-anchor="end" font-size="6.5" font-weight="bold" fill="#3a8fd8" stroke="#3a8fd8" stroke-width="0.22">Paer79</text>
<text x="200.2" y="363.85" text-anchor="end" font-size="6.5" font-weight="bold" fill="#111" stroke="#111" stroke-width="0.22">Paer83</text>
<text x="200.2" y="370.46" text-anchor="end" font-size="6.5" font-weight="bold" fill="#111" stroke="#111" stroke-width="0.22">Paer109</text>
<text x="200.2" y="377.07" text-anchor="end" font-size="6.5" font-weight="bold" fill="#111" stroke="#111" stroke-width="0.22">Paer103</text>
<text x="200.2" y="386.61" text-anchor="end" font-size="6.5" font-weight="bold" fill="#111" stroke="#111" stroke-width="0.22">Paer57</text>
<text x="200.2" y="393.22" text-anchor="end" font-size="6.5" font-weight="bold" fill="#111" stroke="#111" stroke-width="0.22">Paer59</text>
<text x="200.2" y="399.83" text-anchor="end" font-size="6.5" font-weight="bold" fill="#d61f1f" stroke="#d61f1f" stroke-width="0.22">Paer108</text>
<text x="200.2" y="406.44" text-anchor="end" font-size="6.5" font-weight="bold" fill="#111" stroke="#111" stroke-width="0.22">Paer65</text>
<text x="200.2" y="413.05" text-anchor="end" font-size="6.5" font-weight="bold" fill="#3a8fd8" stroke="#3a8fd8" stroke-width="0.22">Paer111</text>
<text x="200.2" y="419.66" text-anchor="end" font-size="6.5" font-weight="bold" fill="#3a8fd8" stroke="#3a8fd8" stroke-width="0.22">Paer39</text>
<text x="200.2" y="426.27" text-anchor="end" font-size="6.5" font-weight="bold" fill="#3a8fd8" stroke="#3a8fd8" stroke-width="0.22">Paer46</text>
<text x="200.2" y="432.88" text-anchor="end" font-size="6.5" font-weight="bold" fill="#111" stroke="#111" stroke-width="0.22">Paer51</text>
<text x="200.2" y="439.49" text-anchor="end" font-size="6.5" font-weight="bold" fill="#3a8fd8" stroke="#3a8fd8" stroke-width="0.22">Paer87</text>
<text x="200.2" y="446.10" text-anchor="end" font-size="6.5" font-weight="bold" fill="#111" stroke="#111" stroke-width="0.22">Paer35</text>
<text x="200.2" y="452.71" text-anchor="end" font-size="6.5" font-weight="bold" fill="#111" stroke="#111" stroke-width="0.22">Paer60</text>
<text x="200.2" y="459.32" text-anchor="end" font-size="6.5" font-weight="bold" fill="#d61f1f" stroke="#d61f1f" stroke-width="0.22">Paer47</text>
<text x="200.2" y="465.93" text-anchor="end" font-size="6.5" font-weight="bold" fill="#d61f1f" stroke="#d61f1f" stroke-width="0.22">Paer34</text>
<text x="200.2" y="472.54" text-anchor="end" font-size="6.5" font-weight="bold" fill="#3a8fd8" stroke="#3a8fd8" stroke-width="0.22">Paer15</text>
<text x="200.2" y="479.15" text-anchor="end" font-size="6.5" font-weight="bold" fill="#111" stroke="#111" stroke-width="0.22">Paer04</text>
<text x="200.2" y="485.75" text-anchor="end" font-size="6.5" font-weight="bold" fill="#111" stroke="#111" stroke-width="0.22">Paer58</text>
<text x="200.2" y="492.37" text-anchor="end" font-size="6.5" font-weight="bold" fill="#111" stroke="#111" stroke-width="0.22">Paer110</text>
<text x="200.2" y="498.98" text-anchor="end" font-size="6.5" font-weight="bold" fill="#111" stroke="#111" stroke-width="0.22">Paer05</text>
<text x="200.2" y="505.59" text-anchor="end" font-size="6.5" font-weight="bold" fill="#111" stroke="#111" stroke-width="0.22">Paer52</text>
<text x="200.2" y="512.20" text-anchor="end" font-size="6.5" font-weight="bold" fill="#d61f1f" stroke="#d61f1f" stroke-width="0.22">Paer31</text>
<text x="200.2" y="521.60" text-anchor="end" font-size="6.5" font-weight="bold" fill="#111" stroke="#111" stroke-width="0.22">Paer03</text>
<text x="200.2" y="531.50" text-anchor="end" font-size="6.5" font-weight="bold" fill="#111" stroke="#111" stroke-width="0.22">Paer74</text>
<text x="200.2" y="538.11" text-anchor="end" font-size="6.5" font-weight="bold" fill="#111" stroke="#111" stroke-width="0.22">Paer84</text>
<circle cx="174.8" cy="4.61" r="0.9" fill="#111"/>
<circle cx="174.8" cy="44.27" r="0.9" fill="#111"/>
<circle cx="174.8" cy="176.47" r="0.9" fill="#111"/>
<circle cx="174.8" cy="222.74" r="0.9" fill="#111"/>
<circle cx="174.8" cy="384.31" r="0.9" fill="#111"/>
<circle cx="174.8" cy="450.41" r="0.9" fill="#111"/>
<circle cx="174.8" cy="519.30" r="0.9" fill="#111"/>
<circle cx="174.8" cy="535.81" r="0.9" fill="#111"/>
<path d="M146.90 4.61H170.87 M154.00 11.21H176.87 M157.80 17.83H176.87 M157.80 24.44H176.87 M162.20 31.05H176.87 M162.20 37.66H176.87 M162.20 44.27H170.87 M162.80 50.88H176.87 M163.90 57.48H176.87 M165.30 64.09H176.87 M166.20 70.71H173.62 M167.10 77.32H176.87 M165.30 83.93H173.26 M165.30 90.54H176.87 M165.30 97.15H176.87 M167.10 103.76H176.87 M171.60 110.37H176.87 M171.60 116.98H176.87 M166.80 123.59H176.87 M167.30 130.19H176.87 M167.30 136.81H176.87 M169.80 143.42H176.87 M168.40 150.03H176.87 M168.40 156.64H176.87 M171.60 163.25H176.87 M171.60 169.86H176.87 M171.60 176.47H174.98 M167.50 183.08H176.87 M167.50 189.69H173.26 M167.50 196.30H176.87 M167.50 202.91H176.87 M167.50 209.52H176.87 M167.50 216.13H176.87 M167.50 222.74H170.87 M167.50 229.35H176.87 M166.40 235.96H176.87 M168.00 242.57H176.87 M166.60 255.79H176.87 M171.60 262.40H176.87 M167.50 269.01H176.87 M167.10 275.62H176.87 M167.50 282.23H176.87 M167.50 288.84H176.87 M167.10 295.45H176.87 M167.10 302.06H176.87 M166.80 308.67H173.26 M169.30 315.28H176.87 M169.30 321.89H176.87 M169.30 328.50H176.87 M169.30 335.11H173.26 M169.30 341.72H176.87 M169.20 348.33H176.87 M169.20 354.94H176.87 M168.80 361.55H176.87 M166.80 368.16H173.26 M166.80 374.77H173.26 M154.20 384.31H170.87 M154.20 390.92H176.87 M154.20 397.53H173.26 M154.20 404.13H176.87 M154.20 410.75H173.98 M154.20 417.36H176.87 M154.20 423.97H176.87 M167.00 430.57H176.87 M167.10 437.19H176.87 M167.10 443.80H176.87 M168.80 450.41H170.87 M169.60 457.02H176.87 M169.60 463.62H176.87 M172.90 470.24H176.87 M170.80 476.85H176.87 M172.70 483.45H176.87 M174.70 496.68H176.87 M173.80 503.29H176.87 M173.80 509.90H176.87 M165.90 519.30H170.87 M104.00 529.20H176.87 M102.80 535.81H170.87" stroke="#dadada" stroke-width="0.8" stroke-dasharray="1 2.3" fill="none"/>
<line x1="0.00" y1="451.50" x2="19.50" y2="451.50" stroke="#a8a8a8" stroke-width="0.8"/>
<line x1="19.50" y1="370.40" x2="19.50" y2="532.90" stroke="#a8a8a8" stroke-width="0.8"/>
<line x1="19.50" y1="370.40" x2="85.10" y2="370.40" stroke="#a8a8a8" stroke-width="0.8"/>
<line x1="85.10" y1="220.30" x2="85.10" y2="519.90" stroke="#c0c0c0" stroke-width="0.9"/>
<line x1="85.10" y1="220.30" x2="106.40" y2="220.30" stroke="#a8a8a8" stroke-width="0.8"/>
<line x1="106.40" y1="16.20" x2="106.40" y2="425.20" stroke="#b0b0b0" stroke-width="0.9"/>
<line x1="106.40" y1="16.20" x2="118.40" y2="16.20" stroke="#000" stroke-width="2.6"/>
<line x1="105.50" y1="425.20" x2="128.90" y2="425.20" stroke="#1d5284" stroke-width="2.6"/>
<line x1="84.70" y1="519.30" x2="163.90" y2="519.30" stroke="#7030a0" stroke-width="3.3"/>
<line x1="19.50" y1="532.90" x2="84.70" y2="532.90" stroke="#3a7d22" stroke-width="3.0"/>
<line x1="84.70" y1="529.20" x2="84.70" y2="535.81" stroke="#5a9a40" stroke-width="0.8"/>
<line x1="84.70" y1="529.20" x2="102.00" y2="529.20" stroke="#5a9a40" stroke-width="0.8"/>
<line x1="84.70" y1="535.81" x2="100.80" y2="535.81" stroke="#5a9a40" stroke-width="0.8"/>
<line x1="118.40" y1="4.61" x2="118.40" y2="27.70" stroke="#2a2a2a" stroke-width="0.9"/>
<line x1="118.40" y1="4.61" x2="144.90" y2="4.61" stroke="#2a2a2a" stroke-width="0.9"/>
<line x1="118.40" y1="27.70" x2="129.30" y2="27.70" stroke="#2a2a2a" stroke-width="0.9"/>
<line x1="129.30" y1="11.21" x2="129.30" y2="44.30" stroke="#2a2a2a" stroke-width="0.9"/>
<line x1="129.30" y1="11.21" x2="152.00" y2="11.21" stroke="#2a2a2a" stroke-width="0.9"/>
<line x1="129.30" y1="44.30" x2="133.40" y2="44.30" stroke="#2a2a2a" stroke-width="0.9"/>
<line x1="133.40" y1="21.10" x2="133.40" y2="67.30" stroke="#2a2a2a" stroke-width="0.9"/>
<line x1="133.40" y1="21.10" x2="155.80" y2="21.10" stroke="#2a2a2a" stroke-width="0.9"/>
<line x1="155.80" y1="17.83" x2="155.80" y2="24.44" stroke="#2a2a2a" stroke-width="0.9"/>
<line x1="133.40" y1="67.50" x2="137.40" y2="67.50" stroke="#2a2a2a" stroke-width="0.9"/>
<line x1="141.40" y1="31.05" x2="141.40" y2="41.00" stroke="#2a2a2a" stroke-width="0.9"/>
<line x1="141.40" y1="31.05" x2="160.20" y2="31.05" stroke="#2a2a2a" stroke-width="0.9"/>
<line x1="141.40" y1="41.00" x2="160.20" y2="41.00" stroke="#2a2a2a" stroke-width="0.9"/>
<line x1="160.20" y1="37.66" x2="160.20" y2="44.27" stroke="#2a2a2a" stroke-width="0.9"/>
<line x1="137.40" y1="36.10" x2="141.40" y2="36.10" stroke="#2a2a2a" stroke-width="0.9"/>
<line x1="141.90" y1="50.88" x2="141.90" y2="57.48" stroke="#2a2a2a" stroke-width="0.9"/>
<line x1="141.90" y1="50.88" x2="160.80" y2="50.88" stroke="#2a2a2a" stroke-width="0.9"/>
<line x1="141.90" y1="57.48" x2="161.90" y2="57.48" stroke="#2a2a2a" stroke-width="0.9"/>
<line x1="138.80" y1="54.20" x2="141.90" y2="54.20" stroke="#2a2a2a" stroke-width="0.9"/>
<line x1="144.40" y1="64.09" x2="144.40" y2="70.71" stroke="#2a2a2a" stroke-width="0.9"/>
<line x1="144.40" y1="64.09" x2="163.30" y2="64.09" stroke="#2a2a2a" stroke-width="0.9"/>
<line x1="144.40" y1="70.71" x2="164.20" y2="70.71" stroke="#2a2a2a" stroke-width="0.9"/>
<line x1="140.80" y1="67.40" x2="144.40" y2="67.40" stroke="#2a2a2a" stroke-width="0.9"/>
<line x1="144.10" y1="77.32" x2="144.10" y2="89.30" stroke="#2a2a2a" stroke-width="0.9"/>
<line x1="144.10" y1="77.32" x2="165.10" y2="77.32" stroke="#2a2a2a" stroke-width="0.9"/>
<line x1="144.10" y1="89.30" x2="163.30" y2="89.30" stroke="#2a2a2a" stroke-width="0.9"/>
<line x1="163.30" y1="83.93" x2="163.30" y2="97.15" stroke="#2a2a2a" stroke-width="0.9"/>
<line x1="140.80" y1="83.90" x2="144.10" y2="83.90" stroke="#2a2a2a" stroke-width="0.9"/>
<line x1="146.40" y1="103.76" x2="146.40" y2="113.70" stroke="#2a2a2a" stroke-width="0.9"/>
<line x1="146.40" y1="103.76" x2="165.10" y2="103.76" stroke="#2a2a2a" stroke-width="0.9"/>
<line x1="146.40" y1="113.70" x2="169.60" y2="113.70" stroke="#2a2a2a" stroke-width="0.9"/>
<line x1="169.60" y1="110.37" x2="169.60" y2="116.98" stroke="#2a2a2a" stroke-width="0.9"/>
<line x1="141.70" y1="108.70" x2="146.40" y2="108.70" stroke="#2a2a2a" stroke-width="0.9"/>
<line x1="146.40" y1="123.59" x2="146.40" y2="133.50" stroke="#2a2a2a" stroke-width="0.9"/>
<line x1="146.40" y1="123.59" x2="164.80" y2="123.59" stroke="#2a2a2a" stroke-width="0.9"/>
<line x1="146.40" y1="133.50" x2="165.30" y2="133.50" stroke="#2a2a2a" stroke-width="0.9"/>
<line x1="165.30" y1="130.19" x2="165.30" y2="136.81" stroke="#2a2a2a" stroke-width="0.9"/>
<line x1="142.80" y1="128.60" x2="146.40" y2="128.60" stroke="#2a2a2a" stroke-width="0.9"/>
<line x1="147.30" y1="143.42" x2="147.30" y2="153.30" stroke="#2a2a2a" stroke-width="0.9"/>
<line x1="147.30" y1="143.42" x2="167.80" y2="143.42" stroke="#2a2a2a" stroke-width="0.9"/>
<line x1="147.30" y1="153.30" x2="166.40" y2="153.30" stroke="#2a2a2a" stroke-width="0.9"/>
<line x1="166.40" y1="150.03" x2="166.40" y2="156.64" stroke="#2a2a2a" stroke-width="0.9"/>
<line x1="144.10" y1="148.40" x2="147.30" y2="148.40" stroke="#2a2a2a" stroke-width="0.9"/>
<line x1="153.90" y1="163.25" x2="153.90" y2="173.20" stroke="#2a2a2a" stroke-width="0.9"/>
<line x1="153.90" y1="163.25" x2="169.60" y2="163.25" stroke="#2a2a2a" stroke-width="0.9"/>
<line x1="153.90" y1="173.20" x2="164.60" y2="173.20" stroke="#2a2a2a" stroke-width="0.9"/>
<line x1="164.60" y1="169.86" x2="164.60" y2="176.47" stroke="#2a2a2a" stroke-width="0.9"/>
<line x1="164.60" y1="169.86" x2="169.60" y2="169.86" stroke="#2a2a2a" stroke-width="0.9"/>
<line x1="164.60" y1="176.47" x2="169.60" y2="176.47" stroke="#2a2a2a" stroke-width="0.9"/>
<line x1="148.40" y1="167.80" x2="153.90" y2="167.80" stroke="#2a2a2a" stroke-width="0.9"/>
<line x1="163.50" y1="192.80" x2="163.50" y2="215.10" stroke="#2a2a2a" stroke-width="0.9"/>
<line x1="165.50" y1="183.08" x2="165.50" y2="202.91" stroke="#2a2a2a" stroke-width="0.9"/>
<line x1="165.50" y1="209.52" x2="165.50" y2="229.35" stroke="#2a2a2a" stroke-width="0.9"/>
<line x1="163.50" y1="192.80" x2="165.50" y2="192.80" stroke="#2a2a2a" stroke-width="0.9"/>
<line x1="163.50" y1="215.10" x2="165.50" y2="215.10" stroke="#2a2a2a" stroke-width="0.9"/>
<line x1="148.20" y1="204.10" x2="163.50" y2="204.10" stroke="#2a2a2a" stroke-width="0.9"/>
<line x1="148.20" y1="167.80" x2="148.20" y2="204.10" stroke="#2a2a2a" stroke-width="0.9"/>
<line x1="144.60" y1="186.40" x2="148.20" y2="186.40" stroke="#2a2a2a" stroke-width="0.9"/>
<line x1="144.60" y1="160.00" x2="144.60" y2="186.40" stroke="#2a2a2a" stroke-width="0.9"/>
<line x1="147.50" y1="235.96" x2="147.50" y2="242.57" stroke="#2a2a2a" stroke-width="0.9"/>
<line x1="147.50" y1="235.96" x2="164.40" y2="235.96" stroke="#2a2a2a" stroke-width="0.9"/>
<line x1="147.50" y1="242.57" x2="166.00" y2="242.57" stroke="#2a2a2a" stroke-width="0.9"/>
<line x1="144.40" y1="239.10" x2="147.50" y2="239.10" stroke="#2a2a2a" stroke-width="0.9"/>
<line x1="147.50" y1="249.18" x2="147.50" y2="259.10" stroke="#2a2a2a" stroke-width="0.9"/>
<line x1="147.50" y1="249.18" x2="174.60" y2="249.18" stroke="#2a2a2a" stroke-width="0.9"/>
<line x1="147.50" y1="259.10" x2="164.60" y2="259.10" stroke="#2a2a2a" stroke-width="0.9"/>
<line x1="164.60" y1="255.79" x2="164.60" y2="262.40" stroke="#2a2a2a" stroke-width="0.9"/>
<line x1="164.60" y1="262.40" x2="169.60" y2="262.40" stroke="#2a2a2a" stroke-width="0.9"/>
<line x1="144.40" y1="254.10" x2="147.50" y2="254.10" stroke="#2a2a2a" stroke-width="0.9"/>
<line x1="144.40" y1="239.10" x2="144.40" y2="254.10" stroke="#2a2a2a" stroke-width="0.9"/>
<line x1="142.80" y1="246.60" x2="144.40" y2="246.60" stroke="#2a2a2a" stroke-width="0.9"/>
<line x1="142.80" y1="225.00" x2="142.80" y2="258.00" stroke="#2a2a2a" stroke-width="0.9"/>
<line x1="147.30" y1="269.01" x2="147.30" y2="275.62" stroke="#2a2a2a" stroke-width="0.9"/>
<line x1="147.30" y1="269.01" x2="165.50" y2="269.01" stroke="#2a2a2a" stroke-width="0.9"/>
<line x1="147.30" y1="275.62" x2="165.10" y2="275.62" stroke="#2a2a2a" stroke-width="0.9"/>
<line x1="144.10" y1="272.30" x2="147.30" y2="272.30" stroke="#2a2a2a" stroke-width="0.9"/>
<line x1="147.30" y1="285.50" x2="147.30" y2="298.70" stroke="#2a2a2a" stroke-width="0.9"/>
<line x1="147.30" y1="285.50" x2="165.50" y2="285.50" stroke="#2a2a2a" stroke-width="0.9"/>
<line x1="165.50" y1="282.23" x2="165.50" y2="288.84" stroke="#2a2a2a" stroke-width="0.9"/>
<line x1="147.30" y1="298.70" x2="165.10" y2="298.70" stroke="#2a2a2a" stroke-width="0.9"/>
<line x1="165.10" y1="295.45" x2="165.10" y2="302.06" stroke="#2a2a2a" stroke-width="0.9"/>
<line x1="144.40" y1="292.10" x2="147.30" y2="292.10" stroke="#2a2a2a" stroke-width="0.9"/>
<line x1="144.40" y1="272.30" x2="144.40" y2="292.10" stroke="#2a2a2a" stroke-width="0.9"/>
<line x1="141.40" y1="282.20" x2="144.40" y2="282.20" stroke="#2a2a2a" stroke-width="0.9"/>
<line x1="147.30" y1="308.67" x2="147.30" y2="323.40" stroke="#2a2a2a" stroke-width="0.9"/>
<line x1="147.30" y1="308.67" x2="164.80" y2="308.67" stroke="#2a2a2a" stroke-width="0.9"/>
<line x1="147.30" y1="323.40" x2="164.90" y2="323.40" stroke="#2a2a2a" stroke-width="0.9"/>
<line x1="164.90" y1="315.28" x2="164.90" y2="331.60" stroke="#2a2a2a" stroke-width="0.9"/>
<line x1="165.70" y1="321.89" x2="165.70" y2="341.72" stroke="#111" stroke-width="1.1"/>
<line x1="165.70" y1="321.89" x2="167.30" y2="321.89" stroke="#2a2a2a" stroke-width="0.9"/>
<line x1="165.70" y1="328.50" x2="167.30" y2="328.50" stroke="#2a2a2a" stroke-width="0.9"/>
<line x1="165.70" y1="341.72" x2="167.30" y2="341.72" stroke="#2a2a2a" stroke-width="0.9"/>
<line x1="142.90" y1="315.80" x2="147.30" y2="315.80" stroke="#2a2a2a" stroke-width="0.9"/>
<line x1="149.30" y1="348.33" x2="149.30" y2="354.94" stroke="#2a2a2a" stroke-width="0.9"/>
<line x1="149.30" y1="348.33" x2="167.20" y2="348.33" stroke="#2a2a2a" stroke-width="0.9"/>
<line x1="149.30" y1="354.94" x2="167.20" y2="354.94" stroke="#2a2a2a" stroke-width="0.9"/>
<line x1="144.10" y1="351.60" x2="149.30" y2="351.60" stroke="#2a2a2a" stroke-width="0.9"/>
<line x1="148.50" y1="361.55" x2="148.50" y2="371.40" stroke="#2a2a2a" stroke-width="0.9"/>
<line x1="148.50" y1="361.55" x2="166.80" y2="361.55" stroke="#2a2a2a" stroke-width="0.9"/>
<line x1="148.50" y1="371.40" x2="164.80" y2="371.40" stroke="#2a2a2a" stroke-width="0.9"/>
<line x1="164.80" y1="368.16" x2="164.80" y2="374.77" stroke="#2a2a2a" stroke-width="0.9"/>
<line x1="144.10" y1="366.50" x2="148.50" y2="366.50" stroke="#2a2a2a" stroke-width="0.9"/>
<line x1="144.10" y1="351.60" x2="144.10" y2="366.50" stroke="#2a2a2a" stroke-width="0.9"/>
<line x1="142.80" y1="359.00" x2="144.10" y2="359.00" stroke="#2a2a2a" stroke-width="0.9"/>
<line x1="137.40" y1="36.10" x2="137.40" y2="99.00" stroke="#333" stroke-width="0.9"/>
<line x1="138.80" y1="54.70" x2="138.80" y2="128.00" stroke="#000" stroke-width="1.5"/>
<line x1="139.50" y1="120.00" x2="139.50" y2="214.60" stroke="#000" stroke-width="1.6"/>
<line x1="140.90" y1="127.80" x2="140.90" y2="145.40" stroke="#222" stroke-width="1.6"/>
<line x1="140.40" y1="67.40" x2="140.40" y2="83.90" stroke="#555" stroke-width="0.9"/>
<line x1="141.70" y1="108.70" x2="141.70" y2="167.00" stroke="#555" stroke-width="0.9"/>
<line x1="142.80" y1="128.60" x2="142.80" y2="148.00" stroke="#2a2a2a" stroke-width="0.9"/>
<line x1="144.10" y1="148.40" x2="144.10" y2="160.00" stroke="#2a2a2a" stroke-width="0.9"/>
<line x1="140.40" y1="214.60" x2="140.40" y2="340.00" stroke="#111" stroke-width="1.2"/>
<line x1="141.40" y1="264.00" x2="141.40" y2="300.00" stroke="#222" stroke-width="1.5"/>
<line x1="142.00" y1="295.00" x2="142.00" y2="337.00" stroke="#444" stroke-width="0.9"/>
<line x1="142.80" y1="316.00" x2="142.80" y2="358.00" stroke="#2a2a2a" stroke-width="0.9"/>
<line x1="128.90" y1="398.10" x2="128.90" y2="452.20" stroke="#2f6597" stroke-width="0.9"/>
<line x1="128.90" y1="398.10" x2="152.20" y2="398.10" stroke="#2f6597" stroke-width="0.9"/>
<line x1="152.20" y1="384.31" x2="152.20" y2="423.97" stroke="#2f6597" stroke-width="0.9"/>
<line x1="128.90" y1="452.20" x2="134.70" y2="452.20" stroke="#2f6597" stroke-width="0.9"/>
<line x1="134.70" y1="435.30" x2="134.70" y2="469.50" stroke="#2f6597" stroke-width="0.9"/>
<line x1="134.70" y1="435.30" x2="139.40" y2="435.30" stroke="#2f6597" stroke-width="0.9"/>
<line x1="139.40" y1="430.57" x2="139.40" y2="440.50" stroke="#2f6597" stroke-width="0.9"/>
<line x1="139.40" y1="430.57" x2="165.00" y2="430.57" stroke="#2f6597" stroke-width="0.9"/>
<line x1="139.40" y1="440.50" x2="165.10" y2="440.50" stroke="#2f6597" stroke-width="0.9"/>
<line x1="165.10" y1="437.19" x2="165.10" y2="443.80" stroke="#2f6597" stroke-width="0.9"/>
<line x1="134.70" y1="469.50" x2="137.30" y2="469.50" stroke="#2f6597" stroke-width="0.9"/>
<line x1="137.30" y1="455.10" x2="137.30" y2="484.00" stroke="#2f6597" stroke-width="0.9"/>
<line x1="137.30" y1="455.10" x2="143.50" y2="455.10" stroke="#2f6597" stroke-width="0.9"/>
<line x1="143.50" y1="450.41" x2="143.50" y2="460.30" stroke="#2f6597" stroke-width="0.9"/>
<line x1="143.50" y1="450.41" x2="166.80" y2="450.41" stroke="#2f6597" stroke-width="0.9"/>
<line x1="143.50" y1="460.30" x2="167.60" y2="460.30" stroke="#2f6597" stroke-width="0.9"/>
<line x1="167.60" y1="457.02" x2="167.60" y2="463.62" stroke="#2f6597" stroke-width="0.9"/>
<line x1="137.30" y1="484.00" x2="139.60" y2="484.00" stroke="#2f6597" stroke-width="0.9"/>
<line x1="139.60" y1="473.40" x2="139.60" y2="494.00" stroke="#2f6597" stroke-width="0.9"/>
<line x1="139.60" y1="473.40" x2="144.60" y2="473.40" stroke="#2f6597" stroke-width="0.9"/>
<line x1="144.60" y1="470.24" x2="144.60" y2="476.85" stroke="#2f6597" stroke-width="0.9"/>
<line x1="144.60" y1="470.24" x2="170.90" y2="470.24" stroke="#2f6597" stroke-width="0.9"/>
<line x1="144.60" y1="476.85" x2="168.80" y2="476.85" stroke="#7aa0c4" stroke-width="1.6"/>
<line x1="139.60" y1="494.00" x2="145.00" y2="494.00" stroke="#2f6597" stroke-width="0.9"/>
<line x1="145.00" y1="486.80" x2="145.00" y2="501.60" stroke="#2f6597" stroke-width="0.9"/>
<line x1="145.00" y1="486.80" x2="170.70" y2="486.80" stroke="#2f6597" stroke-width="0.9"/>
<line x1="170.70" y1="483.45" x2="170.70" y2="490.06" stroke="#2f6597" stroke-width="0.9"/>
<line x1="145.00" y1="501.60" x2="164.80" y2="501.60" stroke="#2f6597" stroke-width="0.9"/>
<line x1="164.80" y1="496.68" x2="164.80" y2="506.60" stroke="#2f6597" stroke-width="0.9"/>
<line x1="164.80" y1="496.68" x2="172.70" y2="496.68" stroke="#2f6597" stroke-width="0.9"/>
<line x1="164.80" y1="506.60" x2="171.80" y2="506.60" stroke="#2f6597" stroke-width="0.9"/>
<line x1="171.80" y1="503.29" x2="171.80" y2="509.90" stroke="#2f6597" stroke-width="0.9"/>
<text x="4.2" y="556.2" font-size="6.4" font-weight="bold" fill="#555" stroke="#555" stroke-width="0.22">Tree scale: 0.01</text>
<path d="M60.7 554.2H116.7M60.7 551.7V556.7M116.7 551.7V556.7M88.2 554.2V555.8" stroke="#555" stroke-width="0.9" fill="none"/>
<rect x="437.5" y="5.8" width="15.5" height="8.4" fill="#d4d4d4"/>
<text x="461.8" y="13.6" font-size="11.2" fill="#111" stroke="#111" stroke-width="0.15">Not susceptible</text>
<rect x="553.5" y="5.8" width="14.3" height="8.4" fill="#676767"/>
<rect x="571" y="5.8" width="14.6" height="8.4" fill="#0a3d80"/>
<rect x="589" y="5.8" width="14.7" height="8.4" fill="#06b41c"/>
<text x="612.6" y="13.6" font-size="11.2" fill="#111" stroke="#111" stroke-width="0.15">Susceptible</text>
<rect x="437.5" y="31.7" width="15.5" height="7.8" fill="#676767"/>
<text x="461.8" y="38.9" font-size="11.25" fill="#111" stroke="#111" stroke-width="0.15">Round 0 (ancestral) phages</text>
<rect x="437.5" y="51.0" width="15.5" height="7.8" fill="#0a3d80"/>
<text x="461.8" y="58.2" font-size="11.25" fill="#111" stroke="#111" stroke-width="0.15">Round 15 (evolved) phages</text>
<rect x="437.5" y="70.8" width="15.5" height="7.8" fill="#06b41c"/>
<text x="461.8" y="78.0" font-size="11.25" fill="#111" stroke="#111" stroke-width="0.15">Round 30 (evolved) phages</text>
<text x="25" y="46" font-size="14" font-weight="bold" fill="#000" stroke="#000" stroke-width="0.22">a</text>
<text x="446" y="112" font-size="14" font-weight="bold" fill="#000" stroke="#000" stroke-width="0.22">b</text>
<text x="446" y="417" font-size="14" font-weight="bold" fill="#000" stroke="#000" stroke-width="0.22">c</text>
<text x="198" y="608" font-size="14" font-weight="bold" fill="#000" stroke="#000" stroke-width="0.22">d</text>
<rect x="509.5" y="120.90" width="52.80" height="10.2" fill="#676767"/>
<text x="560.30" y="128.50" text-anchor="end" font-size="7" fill="#e6e6e6" stroke="#e6e6e6" stroke-width="0.15">31.3</text>
<text x="566.30" y="128.60" font-size="7.3" fill="#111" stroke="#111" stroke-width="0.15">25</text>
<line x1="503.2" y1="126.00" x2="509" y2="126.00" stroke="#000" stroke-width="1.2"/>
<text x="502" y="129.00" text-anchor="end" font-size="8.5" font-weight="bold" fill="#111" stroke="#111" stroke-width="0.22">FIM</text>
<rect x="509.5" y="136.90" width="46.39" height="10.2" fill="#0a3d80"/>
<text x="553.89" y="144.50" text-anchor="end" font-size="7" fill="#e6e6e6" stroke="#e6e6e6" stroke-width="0.15">27.5</text>
<text x="559.89" y="144.60" font-size="7.3" fill="#111" stroke="#111" stroke-width="0.15">22</text>
<line x1="503.2" y1="142.00" x2="509" y2="142.00" stroke="#000" stroke-width="1.2"/>
<text x="502" y="145.00" text-anchor="end" font-size="8.5" font-weight="bold" fill="#111" stroke="#111" stroke-width="0.22">FIM.R60-15</text>
<rect x="509.5" y="153.20" width="48.59" height="10.2" fill="#06b41c"/>
<text x="556.09" y="160.80" text-anchor="end" font-size="7" fill="#e6e6e6" stroke="#e6e6e6" stroke-width="0.15">28.8</text>
<text x="562.09" y="160.90" font-size="7.3" fill="#111" stroke="#111" stroke-width="0.15">23</text>
<line x1="503.2" y1="158.30" x2="509" y2="158.30" stroke="#000" stroke-width="1.2"/>
<text x="502" y="161.30" text-anchor="end" font-size="8.5" font-weight="bold" fill="#111" stroke="#111" stroke-width="0.22">FIM.R60-30</text>
<rect x="509.5" y="180.20" width="27.50" height="10.2" fill="#676767"/>
<text x="535.00" y="187.80" text-anchor="end" font-size="7" fill="#e6e6e6" stroke="#e6e6e6" stroke-width="0.15">16.3</text>
<text x="541.00" y="187.90" font-size="7.3" fill="#111" stroke="#111" stroke-width="0.15">13</text>
<line x1="503.2" y1="185.30" x2="509" y2="185.30" stroke="#000" stroke-width="1.2"/>
<text x="502" y="188.30" text-anchor="end" font-size="8.5" font-weight="bold" fill="#111" stroke="#111" stroke-width="0.22">FJK</text>
<rect x="509.5" y="196.40" width="33.74" height="10.2" fill="#0a3d80"/>
<text x="541.24" y="204.00" text-anchor="end" font-size="7" fill="#e6e6e6" stroke="#e6e6e6" stroke-width="0.15">20.0</text>
<text x="547.24" y="204.10" font-size="7.3" fill="#111" stroke="#111" stroke-width="0.15">16</text>
<line x1="503.2" y1="201.50" x2="509" y2="201.50" stroke="#000" stroke-width="1.2"/>
<text x="502" y="204.50" text-anchor="end" font-size="8.5" font-weight="bold" fill="#111" stroke="#111" stroke-width="0.22">FJK.R9-15</text>
<rect x="509.5" y="212.40" width="40.15" height="10.2" fill="#06b41c"/>
<text x="547.65" y="220.00" text-anchor="end" font-size="7" fill="#e6e6e6" stroke="#e6e6e6" stroke-width="0.15">23.8</text>
<text x="553.65" y="220.10" font-size="7.3" fill="#111" stroke="#111" stroke-width="0.15">19</text>
<line x1="503.2" y1="217.50" x2="509" y2="217.50" stroke="#000" stroke-width="1.2"/>
<text x="502" y="220.50" text-anchor="end" font-size="8.5" font-weight="bold" fill="#111" stroke="#111" stroke-width="0.22">FJK.R9-30</text>
<rect x="509.5" y="239.40" width="35.93" height="10.2" fill="#676767"/>
<text x="543.43" y="247.00" text-anchor="end" font-size="7" fill="#e6e6e6" stroke="#e6e6e6" stroke-width="0.15">21.3</text>
<text x="549.43" y="247.10" font-size="7.3" fill="#111" stroke="#111" stroke-width="0.15">17</text>
<line x1="503.2" y1="244.50" x2="509" y2="244.50" stroke="#000" stroke-width="1.2"/>
<text x="502" y="247.50" text-anchor="end" font-size="8.5" font-weight="bold" fill="#111" stroke="#111" stroke-width="0.22">JS</text>
<rect x="509.5" y="255.40" width="44.37" height="10.2" fill="#676767"/>
<text x="551.87" y="263.00" text-anchor="end" font-size="7" fill="#e6e6e6" stroke="#e6e6e6" stroke-width="0.15">26.3</text>
<text x="557.87" y="263.10" font-size="7.3" fill="#111" stroke="#111" stroke-width="0.15">21</text>
<line x1="503.2" y1="260.50" x2="509" y2="260.50" stroke="#000" stroke-width="1.2"/>
<text x="502" y="263.50" text-anchor="end" font-size="8.5" font-weight="bold" fill="#111" stroke="#111" stroke-width="0.22">MK</text>
<rect x="509.5" y="271.70" width="50.61" height="10.2" fill="#0a3d80"/>
<text x="558.11" y="279.30" text-anchor="end" font-size="7" fill="#e6e6e6" stroke="#e6e6e6" stroke-width="0.15">30.0</text>
<text x="564.11" y="279.40" font-size="7.3" fill="#111" stroke="#111" stroke-width="0.15">24</text>
<line x1="503.2" y1="276.80" x2="509" y2="276.80" stroke="#000" stroke-width="1.2"/>
<text x="502" y="279.80" text-anchor="end" font-size="8.5" font-weight="bold" fill="#111" stroke="#111" stroke-width="0.22">MK.R3-15</text>
<rect x="509.5" y="287.80" width="46.39" height="10.2" fill="#06b41c"/>
<text x="553.89" y="295.40" text-anchor="end" font-size="7" fill="#e6e6e6" stroke="#e6e6e6" stroke-width="0.15">27.5</text>
<text x="559.89" y="295.50" font-size="7.3" fill="#111" stroke="#111" stroke-width="0.15">22</text>
<line x1="503.2" y1="292.90" x2="509" y2="292.90" stroke="#000" stroke-width="1.2"/>
<text x="502" y="295.90" text-anchor="end" font-size="8.5" font-weight="bold" fill="#111" stroke="#111" stroke-width="0.22">MK.R3-30</text>
<rect x="509.5" y="303.90" width="61.24" height="10.2" fill="#0a3d80"/>
<text x="568.74" y="311.50" text-anchor="end" font-size="7" fill="#e6e6e6" stroke="#e6e6e6" stroke-width="0.15">36.3</text>
<text x="574.74" y="311.60" font-size="7.3" fill="#111" stroke="#111" stroke-width="0.15">29</text>
<line x1="503.2" y1="309.00" x2="509" y2="309.00" stroke="#000" stroke-width="1.2"/>
<text x="502" y="312.00" text-anchor="end" font-size="8.5" font-weight="bold" fill="#111" stroke="#111" stroke-width="0.22">MK.R57-15</text>
<rect x="509.5" y="320.00" width="63.26" height="10.2" fill="#06b41c"/>
<text x="570.76" y="327.60" text-anchor="end" font-size="7" fill="#e6e6e6" stroke="#e6e6e6" stroke-width="0.15">37.5</text>
<text x="576.76" y="327.70" font-size="7.3" fill="#111" stroke="#111" stroke-width="0.15">30</text>
<line x1="503.2" y1="325.10" x2="509" y2="325.10" stroke="#000" stroke-width="1.2"/>
<text x="502" y="328.10" text-anchor="end" font-size="8.5" font-weight="bold" fill="#111" stroke="#111" stroke-width="0.22">MK.R57-30</text>
<rect x="509.5" y="336.10" width="54.83" height="10.2" fill="#0a3d80"/>
<text x="562.33" y="343.70" text-anchor="end" font-size="7" fill="#e6e6e6" stroke="#e6e6e6" stroke-width="0.15">32.5</text>
<text x="568.33" y="343.80" font-size="7.3" fill="#111" stroke="#111" stroke-width="0.15">26</text>
<line x1="503.2" y1="341.20" x2="509" y2="341.20" stroke="#000" stroke-width="1.2"/>
<text x="502" y="344.20" text-anchor="end" font-size="8.5" font-weight="bold" fill="#111" stroke="#111" stroke-width="0.22">MK.R84-15</text>
<rect x="509.5" y="352.20" width="54.83" height="10.2" fill="#06b41c"/>
<text x="562.33" y="359.80" text-anchor="end" font-size="7" fill="#e6e6e6" stroke="#e6e6e6" stroke-width="0.15">32.5</text>
<text x="568.33" y="359.90" font-size="7.3" fill="#111" stroke="#111" stroke-width="0.15">26</text>
<line x1="503.2" y1="357.30" x2="509" y2="357.30" stroke="#000" stroke-width="1.2"/>
<text x="502" y="360.30" text-anchor="end" font-size="8.5" font-weight="bold" fill="#111" stroke="#111" stroke-width="0.22">MK.R84-30</text>
<line x1="509.2" y1="115.5" x2="509.2" y2="369" stroke="#000" stroke-width="1.3"/>
<line x1="508.5" y1="368.3" x2="678.6" y2="368.3" stroke="#000" stroke-width="1.3"/>
<line x1="509.20" y1="368.3" x2="509.20" y2="372.6" stroke="#000" stroke-width="1.1"/>
<text x="509.20" y="383.3" text-anchor="middle" font-size="9.4" font-weight="bold" fill="#111" stroke="#111" stroke-width="0.22">0</text>
<line x1="543.24" y1="368.3" x2="543.24" y2="372.6" stroke="#000" stroke-width="1.1"/>
<text x="543.24" y="383.3" text-anchor="middle" font-size="9.4" font-weight="bold" fill="#111" stroke="#111" stroke-width="0.22">20</text>
<line x1="576.98" y1="368.3" x2="576.98" y2="372.6" stroke="#000" stroke-width="1.1"/>
<text x="576.98" y="383.3" text-anchor="middle" font-size="9.4" font-weight="bold" fill="#111" stroke="#111" stroke-width="0.22">40</text>
<line x1="610.72" y1="368.3" x2="610.72" y2="372.6" stroke="#000" stroke-width="1.1"/>
<text x="610.72" y="383.3" text-anchor="middle" font-size="9.4" font-weight="bold" fill="#111" stroke="#111" stroke-width="0.22">60</text>
<line x1="644.46" y1="368.3" x2="644.46" y2="372.6" stroke="#000" stroke-width="1.1"/>
<text x="644.46" y="383.3" text-anchor="middle" font-size="9.4" font-weight="bold" fill="#111" stroke="#111" stroke-width="0.22">80</text>
<line x1="678.00" y1="368.3" x2="678.00" y2="372.6" stroke="#000" stroke-width="1.1"/>
<text x="678.00" y="383.3" text-anchor="middle" font-size="9.4" font-weight="bold" fill="#111" stroke="#111" stroke-width="0.22">100</text>
<text x="593.8" y="396" text-anchor="middle" font-size="9.05" font-weight="bold" fill="#111" stroke="#111" stroke-width="0.22">Susceptible strains among biobank [%]</text>
<line x1="510" y1="171.0" x2="614.8" y2="171.0" stroke="#000" stroke-width="1.3" stroke-dasharray="3.4 1.8"/>
<line x1="510" y1="230.7" x2="614.8" y2="230.7" stroke="#000" stroke-width="1.3" stroke-dasharray="3.4 1.8"/>
<line x1="616.3" y1="114.6" x2="616.3" y2="361" stroke="#222" stroke-width="0.9" stroke-dasharray="0.9 0.9"/>
<line x1="616.2" y1="361" x2="616.2" y2="368.3" stroke="#000" stroke-width="1"/>
<line x1="678" y1="361" x2="678" y2="368.3" stroke="#000" stroke-width="1"/>
<line x1="617.5" y1="364.6" x2="677.5" y2="364.6" stroke="#111" stroke-width="1.1" stroke-dasharray="1.1 0.9"/>
<text x="654.9" y="360.8" text-anchor="middle" font-size="7.5" font-weight="bold" fill="#111" stroke="#111" stroke-width="0.22">37,5 %</text>
<text transform="translate(629.2 286.4) rotate(-90)" text-anchor="middle" font-size="8.25" font-weight="bold" fill="#111" stroke="#111" stroke-width="0.22">Bacteria resistant to all phages (CRS)</text>
<rect x="547.65" y="430.00" width="38.35" height="8.6" fill="#c1323b" stroke="#111" stroke-width="0.8"/>
<text x="549.65" y="436.70" font-size="7" fill="#f4f4f4" stroke="#f4f4f4" stroke-width="0.15">-5</text>
<rect x="586.00" y="430.00" width="15.34" height="8.6" fill="#e5bc22" stroke="#111" stroke-width="0.8"/>
<text x="599.34" y="436.70" text-anchor="end" font-size="7" fill="#fafafa" stroke="#fafafa" stroke-width="0.15">2</text>
<line x1="503.2" y1="434.30" x2="509" y2="434.30" stroke="#000" stroke-width="1.2"/>
<text x="502" y="437.30" text-anchor="end" font-size="8.5" font-weight="bold" fill="#111" stroke="#111" stroke-width="0.22">FIM.R60-15</text>
<rect x="532.31" y="444.70" width="53.69" height="8.6" fill="#c1323b" stroke="#111" stroke-width="0.8"/>
<text x="534.31" y="451.40" font-size="7" fill="#f4f4f4" stroke="#f4f4f4" stroke-width="0.15">-7</text>
<rect x="586.00" y="444.70" width="38.35" height="8.6" fill="#e5bc22" stroke="#111" stroke-width="0.8"/>
<text x="622.35" y="451.40" text-anchor="end" font-size="7" fill="#fafafa" stroke="#fafafa" stroke-width="0.15">5</text>
<line x1="503.2" y1="449.00" x2="509" y2="449.00" stroke="#000" stroke-width="1.2"/>
<text x="502" y="452.00" text-anchor="end" font-size="8.5" font-weight="bold" fill="#111" stroke="#111" stroke-width="0.22">FIM.R60-30</text>
<rect x="555.32" y="468.30" width="30.68" height="8.6" fill="#c1323b" stroke="#111" stroke-width="0.8"/>
<text x="557.32" y="475.00" font-size="7" fill="#f4f4f4" stroke="#f4f4f4" stroke-width="0.15">-4</text>
<rect x="586.00" y="468.30" width="53.69" height="8.6" fill="#e5bc22" stroke="#111" stroke-width="0.8"/>
<text x="637.69" y="475.00" text-anchor="end" font-size="7" fill="#fafafa" stroke="#fafafa" stroke-width="0.15">7</text>
<line x1="503.2" y1="472.60" x2="509" y2="472.60" stroke="#000" stroke-width="1.2"/>
<text x="502" y="475.60" text-anchor="end" font-size="8.5" font-weight="bold" fill="#111" stroke="#111" stroke-width="0.22">FJK.R9-15</text>
<rect x="570.66" y="483.00" width="15.34" height="8.6" fill="#c1323b" stroke="#111" stroke-width="0.8"/>
<text x="572.66" y="489.70" font-size="7" fill="#f4f4f4" stroke="#f4f4f4" stroke-width="0.15">-2</text>
<rect x="586.00" y="483.00" width="61.36" height="8.6" fill="#e5bc22" stroke="#111" stroke-width="0.8"/>
<text x="645.36" y="489.70" text-anchor="end" font-size="7" fill="#fafafa" stroke="#fafafa" stroke-width="0.15">8</text>
<line x1="503.2" y1="487.30" x2="509" y2="487.30" stroke="#000" stroke-width="1.2"/>
<text x="502" y="490.30" text-anchor="end" font-size="8.5" font-weight="bold" fill="#111" stroke="#111" stroke-width="0.22">FJK.R9-30</text>
<rect x="586.00" y="506.90" width="53.69" height="8.6" fill="#e5bc22" stroke="#111" stroke-width="0.8"/>
<text x="637.69" y="513.60" text-anchor="end" font-size="7" fill="#fafafa" stroke="#fafafa" stroke-width="0.15">7</text>
<line x1="503.2" y1="511.20" x2="509" y2="511.20" stroke="#000" stroke-width="1.2"/>
<text x="502" y="514.20" text-anchor="end" font-size="8.5" font-weight="bold" fill="#111" stroke="#111" stroke-width="0.22">MK.R3-15</text>
<rect x="562.99" y="521.60" width="23.01" height="8.6" fill="#c1323b" stroke="#111" stroke-width="0.8"/>
<text x="564.99" y="528.30" font-size="7" fill="#f4f4f4" stroke="#f4f4f4" stroke-width="0.15">-3</text>
<rect x="586.00" y="521.60" width="30.68" height="8.6" fill="#e5bc22" stroke="#111" stroke-width="0.8"/>
<text x="614.68" y="528.30" text-anchor="end" font-size="7" fill="#fafafa" stroke="#fafafa" stroke-width="0.15">4</text>
<line x1="503.2" y1="525.90" x2="509" y2="525.90" stroke="#000" stroke-width="1.2"/>
<text x="502" y="528.90" text-anchor="end" font-size="8.5" font-weight="bold" fill="#111" stroke="#111" stroke-width="0.22">MK.R3-30</text>
<rect x="570.66" y="535.90" width="15.34" height="8.6" fill="#c1323b" stroke="#111" stroke-width="0.8"/>
<text x="572.66" y="542.60" font-size="7" fill="#f4f4f4" stroke="#f4f4f4" stroke-width="0.15">-2</text>
<rect x="586.00" y="535.90" width="76.70" height="8.6" fill="#e5bc22" stroke="#111" stroke-width="0.8"/>
<text x="660.70" y="542.60" text-anchor="end" font-size="7" fill="#fafafa" stroke="#fafafa" stroke-width="0.15">10</text>
<line x1="503.2" y1="540.20" x2="509" y2="540.20" stroke="#000" stroke-width="1.2"/>
<text x="502" y="543.20" text-anchor="end" font-size="8.5" font-weight="bold" fill="#111" stroke="#111" stroke-width="0.22">MK.R57-15</text>
<rect x="570.66" y="550.20" width="15.34" height="8.6" fill="#c1323b" stroke="#111" stroke-width="0.8"/>
<text x="572.66" y="556.90" font-size="7" fill="#f4f4f4" stroke="#f4f4f4" stroke-width="0.15">-2</text>
<rect x="586.00" y="550.20" width="84.37" height="8.6" fill="#e5bc22" stroke="#111" stroke-width="0.8"/>
<text x="668.37" y="556.90" text-anchor="end" font-size="7" fill="#fafafa" stroke="#fafafa" stroke-width="0.15">11</text>
<line x1="503.2" y1="554.50" x2="509" y2="554.50" stroke="#000" stroke-width="1.2"/>
<text x="502" y="557.50" text-anchor="end" font-size="8.5" font-weight="bold" fill="#111" stroke="#111" stroke-width="0.22">MK.R57-30</text>
<rect x="578.33" y="565.20" width="7.67" height="8.6" fill="#c1323b" stroke="#111" stroke-width="0.8"/>
<rect x="586.00" y="565.20" width="46.02" height="8.6" fill="#e5bc22" stroke="#111" stroke-width="0.8"/>
<text x="630.02" y="571.90" text-anchor="end" font-size="7" fill="#fafafa" stroke="#fafafa" stroke-width="0.15">6</text>
<line x1="503.2" y1="569.50" x2="509" y2="569.50" stroke="#000" stroke-width="1.2"/>
<text x="502" y="572.50" text-anchor="end" font-size="8.5" font-weight="bold" fill="#111" stroke="#111" stroke-width="0.22">MK.R84-15</text>
<rect x="570.66" y="579.50" width="15.34" height="8.6" fill="#c1323b" stroke="#111" stroke-width="0.8"/>
<text x="572.66" y="586.20" font-size="7" fill="#f4f4f4" stroke="#f4f4f4" stroke-width="0.15">-2</text>
<rect x="586.00" y="579.50" width="53.69" height="8.6" fill="#e5bc22" stroke="#111" stroke-width="0.8"/>
<text x="637.69" y="586.20" text-anchor="end" font-size="7" fill="#fafafa" stroke="#fafafa" stroke-width="0.15">7</text>
<line x1="503.2" y1="583.80" x2="509" y2="583.80" stroke="#000" stroke-width="1.2"/>
<text x="502" y="586.80" text-anchor="end" font-size="8.5" font-weight="bold" fill="#111" stroke="#111" stroke-width="0.22">MK.R84-30</text>
<line x1="509.2" y1="425.4" x2="509.2" y2="594" stroke="#000" stroke-width="1.3"/>
<line x1="586" y1="425.4" x2="586" y2="593" stroke="#000" stroke-width="1.1"/>
<line x1="508.5" y1="593.3" x2="678.6" y2="593.3" stroke="#000" stroke-width="1.3"/>
<line x1="524.64" y1="593.3" x2="524.64" y2="597.5" stroke="#000" stroke-width="1.1"/>
<text x="524.64" y="608.5" text-anchor="middle" font-size="9.4" font-weight="bold" fill="#111" stroke="#111" stroke-width="0.22">-8</text>
<line x1="555.32" y1="593.3" x2="555.32" y2="597.5" stroke="#000" stroke-width="1.1"/>
<text x="555.32" y="608.5" text-anchor="middle" font-size="9.4" font-weight="bold" fill="#111" stroke="#111" stroke-width="0.22">-4</text>
<line x1="586.00" y1="593.3" x2="586.00" y2="597.5" stroke="#000" stroke-width="1.1"/>
<text x="586.00" y="608.5" text-anchor="middle" font-size="9.4" font-weight="bold" fill="#111" stroke="#111" stroke-width="0.22">0</text>
<line x1="616.68" y1="593.3" x2="616.68" y2="597.5" stroke="#000" stroke-width="1.1"/>
<text x="616.68" y="608.5" text-anchor="middle" font-size="9.4" font-weight="bold" fill="#111" stroke="#111" stroke-width="0.22">4</text>
<line x1="647.36" y1="593.3" x2="647.36" y2="597.5" stroke="#000" stroke-width="1.1"/>
<text x="647.36" y="608.5" text-anchor="middle" font-size="9.4" font-weight="bold" fill="#111" stroke="#111" stroke-width="0.22">8</text>
<line x1="678.00" y1="593.3" x2="678.00" y2="597.5" stroke="#000" stroke-width="1.1"/>
<text x="678.00" y="608.5" text-anchor="middle" font-size="9.4" font-weight="bold" fill="#111" stroke="#111" stroke-width="0.22">12</text>
<text x="593.8" y="621.6" text-anchor="middle" font-size="9.05" font-weight="bold" fill="#111" stroke="#111" stroke-width="0.22">Loss/Gain of infectivity among biobank</text>
<line x1="510" y1="460.8" x2="678" y2="460.8" stroke="#000" stroke-width="1.3" stroke-dasharray="3.4 1.8"/>
<line x1="510" y1="499.4" x2="678" y2="499.4" stroke="#000" stroke-width="1.3" stroke-dasharray="3.4 1.8"/>
<rect x="264.2" y="627.18" width="28.1" height="117.02" fill="#9a9a9a"/>
<path d="M264.2 741.99H292.3 M264.2 739.78H292.3 M264.2 737.58H292.3 M264.2 735.37H292.3 M264.2 733.16H292.3 M264.2 730.95H292.3 M264.2 728.74H292.3 M264.2 724.33H292.3 M264.2 719.91H292.3 M264.2 715.50H292.3 M264.2 711.08H292.3 M264.2 706.66H292.3 M264.2 702.25H292.3 M264.2 697.83H292.3 M264.2 693.42H292.3 M264.2 686.79H292.3 M264.2 680.17H292.3 M264.2 671.34H292.3 M264.2 662.50H292.3 M264.2 651.46H292.3 M264.2 640.42H292.3" stroke="#d8d8d8" stroke-width="0.6" fill="none"/>
<text x="258.6" y="636.0" text-anchor="middle" font-size="6.1" fill="#333" stroke="#333" stroke-width="0.15">6</text>
<text x="258.6" y="653.3" text-anchor="middle" font-size="6.1" fill="#333" stroke="#333" stroke-width="0.15">5</text>
<text x="258.6" y="673.2" text-anchor="middle" font-size="6.1" fill="#333" stroke="#333" stroke-width="0.15">4</text>
<text x="258.6" y="688.7" text-anchor="middle" font-size="6.1" fill="#333" stroke="#333" stroke-width="0.15">3</text>
<text x="258.6" y="713.0" text-anchor="middle" font-size="6.1" fill="#333" stroke="#333" stroke-width="0.15">2</text>
<text x="258.6" y="738.4" text-anchor="middle" font-size="6.1" fill="#333" stroke="#333" stroke-width="0.15">1</text>
<text x="278.2" y="634.2" text-anchor="middle" font-size="7" fill="#f0f0f0" class="nostroke">53</text>
<rect x="307.2" y="713.29" width="27.4" height="30.91" fill="#0c2b50"/>
<path d="M307.2 731.3H334.6M307.2 740.2H334.6" stroke="#8b9db3" stroke-width="0.6" fill="none"/>
<text x="320.9" y="721" text-anchor="middle" font-size="7" fill="#f0f0f0" class="nostroke">14</text>
<text x="339.8" y="724.5" text-anchor="middle" font-size="6.1" fill="#444" stroke="#444" stroke-width="0.15">8</text>
<text x="339.8" y="738.1" text-anchor="middle" font-size="6.1" fill="#444" stroke="#444" stroke-width="0.15">4</text>
<text x="339.8" y="743.7" text-anchor="middle" font-size="6.1" fill="#444" stroke="#444" stroke-width="0.15">2</text>
<line x1="249.8" y1="611.2" x2="249.8" y2="745" stroke="#000" stroke-width="1.4"/>
<line x1="249.1" y1="744.2" x2="350.4" y2="744.2" stroke="#000" stroke-width="1.4"/>
<line x1="349.7" y1="611.2" x2="349.7" y2="745" stroke="#000" stroke-width="1.4"/>
<line x1="243.8" y1="744.20" x2="249.8" y2="744.20" stroke="#000" stroke-width="1.2"/>
<text x="241.6" y="747.80" text-anchor="end" font-size="9.8" font-weight="bold" fill="#111" stroke="#111" stroke-width="0.22">0</text>
<line x1="243.8" y1="722.12" x2="249.8" y2="722.12" stroke="#000" stroke-width="1.2"/>
<text x="241.6" y="725.72" text-anchor="end" font-size="9.8" font-weight="bold" fill="#111" stroke="#111" stroke-width="0.22">10</text>
<line x1="243.8" y1="700.04" x2="249.8" y2="700.04" stroke="#000" stroke-width="1.2"/>
<text x="241.6" y="703.64" text-anchor="end" font-size="9.8" font-weight="bold" fill="#111" stroke="#111" stroke-width="0.22">20</text>
<line x1="243.8" y1="677.96" x2="249.8" y2="677.96" stroke="#000" stroke-width="1.2"/>
<text x="241.6" y="681.56" text-anchor="end" font-size="9.8" font-weight="bold" fill="#111" stroke="#111" stroke-width="0.22">30</text>
<line x1="243.8" y1="655.88" x2="249.8" y2="655.88" stroke="#000" stroke-width="1.2"/>
<text x="241.6" y="659.48" text-anchor="end" font-size="9.8" font-weight="bold" fill="#111" stroke="#111" stroke-width="0.22">40</text>
<line x1="243.8" y1="633.80" x2="249.8" y2="633.80" stroke="#000" stroke-width="1.2"/>
<text x="241.6" y="637.40" text-anchor="end" font-size="9.8" font-weight="bold" fill="#111" stroke="#111" stroke-width="0.22">50</text>
<line x1="243.8" y1="611.72" x2="249.8" y2="611.72" stroke="#000" stroke-width="1.2"/>
<text x="241.6" y="615.32" text-anchor="end" font-size="9.8" font-weight="bold" fill="#111" stroke="#111" stroke-width="0.22">60</text>
<line x1="349.7" y1="744.20" x2="357" y2="744.20" stroke="#000" stroke-width="1.2"/>
<text x="358.6" y="748.10" font-size="10" font-weight="bold" fill="#111" stroke="#111" stroke-width="0.22">0.0</text>
<line x1="349.7" y1="718.92" x2="357" y2="718.92" stroke="#000" stroke-width="1.2"/>
<text x="358.6" y="722.82" font-size="10" font-weight="bold" fill="#111" stroke="#111" stroke-width="0.22">0.4</text>
<line x1="349.7" y1="693.64" x2="357" y2="693.64" stroke="#000" stroke-width="1.2"/>
<text x="358.6" y="697.54" font-size="10" font-weight="bold" fill="#111" stroke="#111" stroke-width="0.22">0.8</text>
<line x1="349.7" y1="668.36" x2="357" y2="668.36" stroke="#000" stroke-width="1.2"/>
<text x="358.6" y="672.26" font-size="10" font-weight="bold" fill="#111" stroke="#111" stroke-width="0.22">1.2</text>
<line x1="349.7" y1="643.08" x2="357" y2="643.08" stroke="#000" stroke-width="1.2"/>
<text x="358.6" y="646.98" font-size="10" font-weight="bold" fill="#111" stroke="#111" stroke-width="0.22">1.6</text>
<line x1="349.7" y1="617.80" x2="357" y2="617.80" stroke="#000" stroke-width="1.2"/>
<text x="358.6" y="621.70" font-size="10" font-weight="bold" fill="#111" stroke="#111" stroke-width="0.22">2.0</text>
<line x1="278.2" y1="744.2" x2="278.2" y2="749.8" stroke="#000" stroke-width="1.2"/>
<line x1="320.9" y1="744.2" x2="320.9" y2="749.8" stroke="#000" stroke-width="1.2"/>
<text transform="translate(280.3 757.8) rotate(-45)" text-anchor="end" font-size="10" font-weight="bold" fill="#111" stroke="#111" stroke-width="0.22">AS</text>
<text transform="translate(323.0 757.8) rotate(-45)" text-anchor="end" font-size="10" font-weight="bold" fill="#111" stroke="#111" stroke-width="0.22">ES</text>
<text transform="translate(224.6 678.1) rotate(-90)" text-anchor="middle" font-size="10.5" font-weight="bold" fill="#111" stroke="#111" stroke-width="0.22">Infectivity gains</text>
<text transform="translate(386.2 677.9) rotate(-90)" text-anchor="middle" font-size="10.6" font-weight="bold" fill="#111" stroke="#111" stroke-width="0.22">Infectivity gains per strain</text>
<path d="M283.2 664.2H320.8V641.5" stroke="#000" stroke-width="1.1" fill="none"/>
<path d="M317.9 643.2L320.8 637.6L323.7 643.2Z" fill="#000"/>
<circle cx="278.1" cy="664.2" r="2.1" fill="#f6c343"/>
<circle cx="320.8" cy="633.4" r="2.1" fill="#f6c343"/>
<text x="309.3" y="662" text-anchor="middle" font-size="6.2" fill="#444" stroke="#444" stroke-width="0.15">38.7%</text>
<rect x="413.3" y="652.5" width="15" height="7.6" fill="#0c2b50"/>
<text x="436.6" y="659.8" font-size="11.35" fill="#111" stroke="#111" stroke-width="0.15">Strains incl. in Evolution (ES)</text>
<rect x="413.3" y="672.4" width="15" height="7.6" fill="#9a9a9a"/>
<text x="436.6" y="679.7" font-size="11.35" fill="#111" stroke="#111" stroke-width="0.15">All strains ex. ES/CRS (AS)</text>
</svg></body></html>
